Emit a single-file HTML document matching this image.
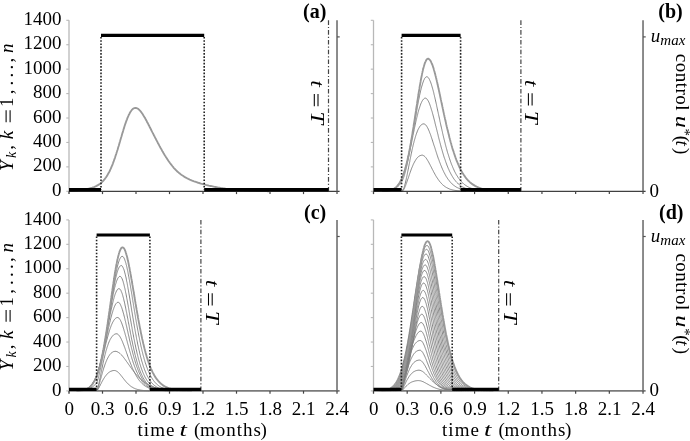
<!DOCTYPE html>
<html><head><meta charset="utf-8"><style>
html,body{margin:0;padding:0;background:#fff;}
svg{display:block;filter:grayscale(1);}
</style></head><body>
<svg width="690" height="441" viewBox="0 0 690 441" font-family='"Liberation Serif", serif' font-size="19" fill="#000">
<rect width="690" height="441" fill="#fff"/>
<polyline points="69,190.7 70,190.7 70.9,190.6 71.9,190.6 72.9,190.5 73.9,190.5 74.8,190.4 75.8,190.3 76.8,190.2 77.8,190.2 78.7,190.1 79.7,190 80.7,189.9 81.7,189.8 82.6,189.7 83.6,189.5 84.6,189.4 85.6,189.2 86.5,189.1 87.5,188.9 88.5,188.7 89.4,188.5 90.4,188.2 91.4,187.9 92.3,187.7 93.1,187.4 94,187.1 94.9,186.7 95.7,186.3 96.6,185.9 97.4,185.4 98.3,184.9 99.1,184.4 99.8,183.9 100.6,183.3 101.3,182.7 102.1,182 102.7,181.3 103.4,180.7 104,179.9 104.7,179.1 105.3,178.3 105.9,177.5 106.4,176.7 107,175.9 107.5,175 108,174.1 108.6,173.1 109,172.3 109.5,171.5 109.9,170.6 110.3,169.7 110.8,168.7 111.2,167.7 111.6,166.7 112.1,165.7 112.5,164.6 112.9,163.5 113.2,162.6 113.6,161.7 113.9,160.8 114.2,159.9 114.5,159 114.9,158.1 115.2,157.1 115.5,156.1 115.8,155.1 116.2,154.1 116.5,153.1 116.8,152.1 117.1,151 117.5,150 117.8,148.9 118.1,147.8 118.4,146.8 118.8,145.7 119.1,144.6 119.4,143.5 119.7,142.4 120.1,141.2 120.4,140.1 120.7,139 121,137.9 121.4,136.8 121.7,135.7 122,134.6 122.3,133.5 122.7,132.4 123,131.3 123.3,130.3 123.6,129.2 124,128.2 124.3,127.1 124.6,126.1 124.9,125.1 125.2,124.2 125.6,123.2 125.9,122.3 126.2,121.4 126.5,120.5 126.9,119.6 127.2,118.7 127.6,117.7 128.1,116.6 128.5,115.7 128.9,114.7 129.4,113.9 129.8,113 130.3,112.1 130.9,111.3 131.4,110.5 132.1,109.7 132.7,109.1 133.5,108.5 134.3,108.1 135.3,107.9 136.3,108 137.1,108.3 138,108.8 138.8,109.4 139.5,110.1 140.2,110.8 140.8,111.6 141.5,112.5 142,113.2 142.6,114.1 143.1,114.9 143.6,115.8 144.2,116.7 144.7,117.6 145.3,118.6 145.8,119.5 146.2,120.3 146.7,121.1 147.1,122 147.5,122.8 148,123.6 148.4,124.4 148.8,125.3 149.3,126.1 149.7,127 150.1,127.8 150.6,128.7 151,129.5 151.4,130.4 151.9,131.2 152.3,132.1 152.7,132.9 153.2,133.8 153.6,134.6 154,135.5 154.5,136.3 154.9,137.2 155.3,138 155.8,138.8 156.2,139.7 156.6,140.5 157.1,141.3 157.5,142.1 157.9,143 158.3,143.8 158.8,144.6 159.2,145.4 159.6,146.2 160.1,147 160.6,148 161.2,148.9 161.7,149.9 162.2,150.9 162.8,151.8 163.3,152.7 163.9,153.7 164.4,154.6 164.9,155.5 165.5,156.3 166,157.2 166.6,158 167.1,158.9 167.7,159.7 168.2,160.5 168.7,161.3 169.3,162 169.8,162.8 170.4,163.5 171,164.4 171.7,165.2 172.3,166 173,166.8 173.6,167.6 174.2,168.3 174.9,169 175.5,169.7 176.2,170.3 176.8,171 177.6,171.7 178.4,172.4 179.1,173 179.9,173.6 180.6,174.2 181.4,174.8 182.1,175.3 182.9,175.8 183.7,176.3 184.5,176.9 185.4,177.4 186.3,177.8 187.1,178.3 188,178.7 188.9,179.2 189.7,179.6 190.6,179.9 191.4,180.3 192.3,180.7 193.2,181 194,181.3 194.9,181.6 195.8,181.9 196.6,182.2 197.5,182.5 198.4,182.8 199.2,183 200.1,183.3 201,183.6 201.9,183.8 202.9,184.1 203.9,184.4 204.9,184.6 205.8,184.9 206.8,185.1 207.8,185.3 208.8,185.6 209.7,185.8 210.7,186 211.7,186.2 212.6,186.4 213.6,186.6 214.6,186.8 215.6,187 216.5,187.2 217.5,187.4 218.5,187.6 219.5,187.7 220.4,187.9 221.4,188.1 222.4,188.2 223.4,188.4 224.3,188.5 225.3,188.6 226.3,188.8 227.3,188.9 228.2,189 229.2,189.1 230.2,189.3 231.1,189.4 232.1,189.5 233.1,189.6 234.1,189.7 235,189.8 236,189.9 237,189.9 238,190 238.9,190.1 239.9,190.2 240.9,190.2 241.9,190.3 242.8,190.4 243.8,190.4 244.8,190.5 245.7,190.5 246.7,190.6 247.7,190.6 248.7,190.7 249.6,190.7 250.6,190.8 251.6,190.8 252.6,190.8 253.5,190.9 254.5,190.9 255.5,190.9 256.5,191 257.4,191 258.4,191 259.4,191 260.4,191 261.3,191.1 262.3,191.1 263.3,191.1 264.2,191.1 265.2,191.1 266.2,191.1 267.2,191.2 268.1,191.2 269.1,191.2 269.2,191.2" fill="none" stroke="#999" stroke-width="1.85" stroke-linejoin="round"/>
<polyline points="402.1,191.2 402.9,190.7 403.5,189.9 404,189.1 404.4,188.3 404.8,187.4 405.2,186.5 405.6,185.6 405.9,184.6 406.3,183.6 406.6,182.8 406.9,181.9 407.2,181 407.5,180.1 407.8,179.2 408.2,178.3 408.5,177.4 408.8,176.4 409.1,175.5 409.4,174.6 409.7,173.7 410,172.8 410.3,172 410.6,171.1 411,170.1 411.3,169.1 411.7,168.2 412.1,167.2 412.5,166.3 412.8,165.5 413.2,164.6 413.6,163.7 414.1,162.8 414.5,162 415,161.1 415.5,160.3 416,159.5 416.5,158.7 417.1,158 417.7,157.3 418.4,156.7 419.2,156.1 420,155.7 420.8,155.4 421.7,155.2 422.7,155.2 423.5,155.6 424.3,156.1 425,156.7 425.6,157.4 426.2,158.1 426.7,158.9 427.2,159.7 427.7,160.5 428.2,161.3 428.7,162.2 429.1,163 429.5,163.8 430,164.7 430.4,165.5 430.8,166.3 431.3,167.2 431.7,168 432.1,168.9 432.5,169.7 433,170.5 433.4,171.4 433.8,172.2 434.3,173 434.8,173.9 435.2,174.7 435.7,175.6 436.2,176.4 436.7,177.2 437.2,178 437.8,178.8 438.3,179.6 438.9,180.4 439.4,181.1 440,181.9 440.7,182.6 441.3,183.3 441.9,184 442.6,184.7 443.3,185.3 444,185.9 444.8,186.4 445.6,187 446.4,187.5 447.2,187.9 448,188.3 448.9,188.7 449.7,189.1 450.6,189.4 451.5,189.6 452.5,189.9 453.4,190.1 454.3,190.3 455.2,190.4 456.1,190.6 457.1,190.7 458,190.8 458.9,190.8 459.8,190.9 460.7,191 461.7,191 462.6,191.1 463.5,191.1 464.4,191.1 465.4,191.2 465.8,191.2" fill="none" stroke="#808080" stroke-width="0.95" stroke-linejoin="round"/>
<polyline points="402.1,191.2 402.7,190.5 403.2,189.6 403.6,188.8 404,187.8 404.3,186.8 404.6,185.8 404.8,184.9 405.1,184 405.3,183 405.6,182 405.8,180.9 406.1,179.8 406.3,178.7 406.6,177.6 406.8,176.4 407,175.5 407.2,174.6 407.4,173.7 407.5,172.7 407.7,171.8 407.9,170.9 408.1,169.9 408.3,169 408.5,168 408.6,167.1 408.8,166.1 409,165.2 409.2,164.2 409.4,163.3 409.6,162.3 409.8,161.4 409.9,160.4 410.1,159.5 410.3,158.6 410.5,157.6 410.7,156.7 410.9,155.8 411,154.9 411.2,154 411.4,153.1 411.7,152 411.9,150.8 412.1,149.7 412.4,148.6 412.6,147.5 412.9,146.4 413.1,145.4 413.4,144.3 413.6,143.3 413.9,142.4 414.1,141.4 414.4,140.5 414.6,139.6 414.9,138.7 415.2,137.6 415.5,136.6 415.8,135.6 416.1,134.7 416.4,133.8 416.7,133 417.1,132 417.4,131.1 417.8,130.2 418.2,129.3 418.7,128.4 419.2,127.6 419.6,126.8 420.2,126 420.8,125.3 421.5,124.7 422.3,124.2 423.1,123.9 424.1,123.9 424.9,124.3 425.7,124.9 426.3,125.6 426.8,126.4 427.3,127.3 427.8,128.1 428.2,129 428.6,129.9 429,130.8 429.4,131.7 429.7,132.7 430.1,133.6 430.5,134.6 430.8,135.5 431.1,136.4 431.4,137.3 431.7,138.2 432,139.1 432.3,140 432.6,141 432.9,141.9 433.2,142.8 433.5,143.8 433.8,144.8 434.1,145.7 434.5,146.7 434.8,147.6 435.1,148.6 435.4,149.6 435.7,150.5 436,151.5 436.3,152.4 436.6,153.3 436.9,154.3 437.2,155.2 437.5,156.1 437.8,157 438.1,157.9 438.4,158.8 438.8,159.6 439.1,160.5 439.4,161.5 439.8,162.5 440.2,163.4 440.5,164.4 440.9,165.3 441.3,166.2 441.6,167.1 442,168 442.4,168.8 442.7,169.7 443.2,170.6 443.6,171.5 444,172.4 444.5,173.2 444.9,174.1 445.3,174.8 445.8,175.7 446.3,176.6 446.8,177.3 447.3,178.1 447.8,178.9 448.4,179.7 449,180.4 449.6,181.2 450.2,181.9 450.8,182.6 451.5,183.3 452.1,184 452.8,184.6 453.6,185.2 454.3,185.7 455.1,186.3 455.9,186.8 456.7,187.3 457.5,187.7 458.4,188.1 459.2,188.4 460.1,188.8 460.9,189 461.9,189.3 462.8,189.6 463.7,189.8 464.6,190 465.5,190.1 466.5,190.3 467.4,190.4 468.3,190.5 469.2,190.6 470.1,190.7 471.1,190.8 472,190.9 472.9,190.9 473.8,191 474.8,191 475.7,191.1 476.6,191.1 477.5,191.1 478.4,191.1 479.4,191.2 480,191.2" fill="none" stroke="#808080" stroke-width="0.95" stroke-linejoin="round"/>
<polyline points="382.5,191.2 383.5,191.1 384.4,191.1 385.3,191 386.2,191 387.1,190.9 388.1,190.8 389,190.6 389.9,190.4 390.8,190.2 391.7,190 392.6,189.7 393.5,189.3 394.3,188.9 395.1,188.5 395.9,188 396.7,187.4 397.4,186.9 398.1,186.2 398.8,185.6 399.4,184.9 400,184.2 400.5,183.5 401.1,182.7 401.6,181.9 402.1,181 402.6,180.2 402.9,179.3 403.3,178.4 403.7,177.4 404,176.5 404.3,175.5 404.6,174.5 404.9,173.4 405.1,172.6 405.4,171.6 405.6,170.7 405.9,169.7 406.1,168.7 406.4,167.7 406.6,166.7 406.9,165.6 407.1,164.5 407.4,163.4 407.6,162.3 407.8,161.1 408.1,160 408.3,158.8 408.5,157.9 408.7,157 408.9,156.1 409.1,155.2 409.3,154.3 409.4,153.4 409.6,152.5 409.8,151.6 410,150.6 410.2,149.7 410.4,148.8 410.5,147.8 410.7,146.9 410.9,146 411.1,145 411.3,144.1 411.5,143.1 411.7,142.2 411.8,141.2 412,140.3 412.2,139.4 412.4,138.4 412.6,137.5 412.8,136.6 412.9,135.6 413.1,134.7 413.3,133.8 413.5,132.9 413.7,132 413.9,131 414.1,130.1 414.2,129.3 414.4,128.4 414.6,127.5 414.9,126.3 415.1,125.2 415.3,124 415.6,122.9 415.8,121.8 416.1,120.7 416.3,119.6 416.6,118.6 416.8,117.5 417.1,116.5 417.3,115.5 417.6,114.5 417.8,113.6 418,112.6 418.3,111.7 418.5,110.8 418.8,109.8 419.2,108.7 419.5,107.8 419.8,106.8 420.1,105.9 420.4,105.1 420.7,104.1 421.1,103.2 421.5,102.4 421.9,101.5 422.4,100.6 423,99.8 423.6,99 424.3,98.4 425.2,98.1 426.1,98.3 426.8,98.9 427.4,99.6 427.9,100.4 428.4,101.2 428.8,102.1 429.2,102.9 429.5,103.8 429.9,104.8 430.2,105.7 430.5,106.6 430.8,107.5 431.1,108.5 431.4,109.5 431.7,110.5 432.1,111.6 432.3,112.4 432.5,113.3 432.8,114.2 433,115.1 433.3,116.1 433.5,117 433.8,117.9 434,118.9 434.3,119.9 434.5,120.8 434.8,121.8 435,122.8 435.2,123.8 435.5,124.8 435.7,125.8 436,126.7 436.2,127.7 436.5,128.7 436.7,129.7 437,130.7 437.2,131.7 437.5,132.7 437.7,133.7 438,134.7 438.2,135.7 438.4,136.7 438.7,137.6 438.9,138.6 439.2,139.6 439.4,140.5 439.7,141.5 439.9,142.4 440.2,143.3 440.4,144.3 440.7,145.2 440.9,146.1 441.1,147 441.4,147.9 441.6,148.8 441.9,149.6 442.2,150.7 442.5,151.8 442.8,152.8 443.1,153.8 443.4,154.8 443.7,155.8 444,156.8 444.3,157.8 444.7,158.7 445,159.6 445.3,160.5 445.6,161.4 445.9,162.3 446.2,163.1 446.6,164.1 446.9,165.1 447.3,166 447.7,166.9 448,167.8 448.4,168.7 448.8,169.5 449.2,170.5 449.6,171.4 450.1,172.3 450.5,173.1 450.9,173.9 451.4,174.8 451.9,175.7 452.4,176.5 452.9,177.3 453.4,178.2 454,179 454.5,179.7 455.1,180.4 455.7,181.2 456.3,181.9 456.9,182.5 457.6,183.2 458.3,183.9 459,184.5 459.8,185.1 460.5,185.6 461.3,186.2 462.1,186.7 462.9,187.1 463.8,187.5 464.6,187.9 465.5,188.3 466.3,188.6 467.2,188.9 468.1,189.2 469,189.4 470,189.7 470.9,189.8 471.8,190 472.7,190.2 473.7,190.3 474.6,190.4 475.5,190.5 476.4,190.6 477.3,190.7 478.3,190.8 479.2,190.8 480.1,190.9 481,191 481.9,191 482.9,191 483.8,191.1 484.7,191.1 485.6,191.1 486.6,191.1 487.5,191.2 488.1,191.2" fill="none" stroke="#808080" stroke-width="0.95" stroke-linejoin="round"/>
<polyline points="382.2,191.2 383.1,191.1 384.1,191.1 385,191 385.9,190.9 386.8,190.8 387.8,190.7 388.7,190.5 389.6,190.3 390.5,190.1 391.4,189.8 392.2,189.4 393.1,189 393.9,188.6 394.7,188 395.4,187.5 396.1,186.9 396.8,186.2 397.4,185.5 398,184.7 398.6,184 399.1,183.2 399.6,182.4 400.1,181.5 400.5,180.7 401,179.9 401.4,179 401.8,178 402.2,177.1 402.6,176.2 402.9,175.3 403.3,174.3 403.6,173.4 403.9,172.5 404.2,171.6 404.5,170.6 404.8,169.6 405.1,168.6 405.4,167.6 405.7,166.7 405.9,165.8 406.2,164.9 406.4,163.9 406.7,163 406.9,162 407.2,161 407.4,160 407.7,158.9 407.9,157.9 408.2,156.8 408.4,155.7 408.6,154.6 408.9,153.4 409.1,152.3 409.3,151.4 409.5,150.5 409.7,149.6 409.9,148.7 410.1,147.8 410.2,146.8 410.4,145.9 410.6,144.9 410.8,144 411,143 411.2,142 411.3,141.1 411.5,140.1 411.7,139.1 411.9,138.1 412.1,137 412.3,136 412.5,135 412.6,134 412.8,132.9 413,131.9 413.2,130.8 413.4,129.8 413.6,128.7 413.7,127.7 413.9,126.6 414.1,125.6 414.3,124.5 414.5,123.4 414.7,122.4 414.9,121.3 415,120.3 415.2,119.2 415.4,118.1 415.6,117.1 415.8,116 416,115 416.1,113.9 416.3,112.9 416.5,111.8 416.7,110.8 416.9,109.7 417.1,108.7 417.2,107.7 417.4,106.7 417.6,105.7 417.8,104.7 418,103.7 418.2,102.7 418.4,101.7 418.5,100.8 418.7,99.8 418.9,98.9 419.1,98 419.3,97.1 419.5,96.2 419.6,95.3 419.9,94.1 420.1,93 420.4,91.9 420.6,90.9 420.9,89.8 421.1,88.8 421.4,87.8 421.6,86.9 421.9,86 422.2,84.9 422.5,83.9 422.8,83 423.1,82.1 423.5,81.1 423.8,80.2 424.3,79.3 424.7,78.4 425.3,77.6 426,77 426.8,76.7 427.7,77.1 428.4,77.7 428.9,78.5 429.4,79.4 429.8,80.3 430.2,81.2 430.6,82.1 430.9,83 431.2,83.9 431.5,84.8 431.8,85.8 432.1,86.8 432.4,87.9 432.7,88.8 432.9,89.7 433.2,90.7 433.4,91.6 433.7,92.6 433.9,93.6 434.1,94.6 434.4,95.6 434.6,96.7 434.9,97.7 435.1,98.8 435.4,99.9 435.6,101 435.9,102.1 436.1,103.2 436.4,104.3 436.6,105.4 436.8,106.6 437.1,107.7 437.3,108.9 437.6,110 437.8,111.2 438.1,112.3 438.3,113.5 438.6,114.6 438.8,115.8 439.1,116.9 439.3,118.1 439.6,119.2 439.8,120.4 440,121.5 440.3,122.6 440.5,123.8 440.8,124.9 441,126 441.3,127.1 441.5,128.2 441.8,129.3 442,130.4 442.3,131.5 442.5,132.6 442.7,133.6 443,134.7 443.2,135.7 443.5,136.8 443.7,137.8 444,138.8 444.2,139.8 444.5,140.8 444.7,141.8 445,142.8 445.2,143.7 445.4,144.7 445.7,145.6 445.9,146.5 446.2,147.5 446.4,148.4 446.7,149.2 446.9,150.1 447.2,151.2 447.5,152.3 447.8,153.3 448.2,154.3 448.5,155.3 448.8,156.3 449.1,157.3 449.4,158.2 449.7,159.1 450,160 450.3,160.9 450.6,161.8 451,162.8 451.3,163.8 451.7,164.7 452.1,165.6 452.5,166.6 452.8,167.4 453.2,168.3 453.6,169.1 454,170.1 454.4,171 454.8,171.8 455.3,172.7 455.7,173.5 456.2,174.4 456.7,175.2 457.2,176 457.7,176.8 458.2,177.6 458.8,178.4 459.3,179.2 459.9,179.9 460.5,180.6 461.1,181.3 461.7,182 462.4,182.7 463.1,183.3 463.8,184 464.6,184.6 465.3,185.1 466.1,185.7 466.9,186.2 467.7,186.6 468.5,187.1 469.3,187.5 470.2,187.9 471.1,188.2 471.9,188.5 472.8,188.8 473.7,189.1 474.6,189.3 475.6,189.5 476.5,189.7 477.4,189.9 478.3,190.1 479.2,190.2 480.2,190.3 481.1,190.4 482,190.5 482.9,190.6 483.9,190.7 484.8,190.8 485.7,190.8 486.6,190.9 487.5,190.9 488.5,191 489.4,191 490.3,191 491.2,191.1 492.1,191.1 493.1,191.1 494,191.1 494.9,191.2 495.6,191.2" fill="none" stroke="#808080" stroke-width="0.95" stroke-linejoin="round"/>
<polyline points="382.7,191.2 383.6,191.1 384.5,191.1 385.4,191 386.3,190.9 387.3,190.8 388.2,190.7 389.1,190.5 390,190.3 390.9,190.1 391.8,189.8 392.7,189.4 393.5,189 394.3,188.5 395.1,188 395.9,187.4 396.5,186.8 397.2,186.1 397.8,185.4 398.4,184.6 399,183.8 399.5,183 400,182.2 400.5,181.3 400.9,180.5 401.3,179.6 401.8,178.7 402.1,177.8 402.5,176.9 402.9,175.9 403.2,175 403.5,174.1 403.9,173.2 404.2,172.3 404.5,171.3 404.8,170.3 405.1,169.3 405.4,168.2 405.6,167.3 405.9,166.4 406.1,165.4 406.4,164.5 406.6,163.5 406.9,162.5 407.1,161.5 407.4,160.4 407.6,159.3 407.8,158.2 408.1,157.1 408.3,155.9 408.6,154.8 408.8,153.9 409,152.9 409.1,152 409.3,151.1 409.5,150.1 409.7,149.2 409.9,148.2 410.1,147.2 410.2,146.2 410.4,145.2 410.6,144.2 410.8,143.1 411,142.1 411.2,141 411.3,140 411.5,138.9 411.7,137.8 411.9,136.7 412.1,135.6 412.3,134.5 412.5,133.3 412.6,132.2 412.8,131 413,129.9 413.2,128.7 413.4,127.6 413.6,126.4 413.7,125.2 413.9,124 414.1,122.8 414.3,121.6 414.5,120.4 414.7,119.2 414.9,118 415,116.8 415.2,115.6 415.4,114.3 415.6,113.1 415.8,111.9 416,110.7 416.1,109.5 416.3,108.2 416.5,107 416.7,105.8 416.9,104.6 417.1,103.4 417.2,102.2 417.4,101 417.6,99.8 417.8,98.6 418,97.4 418.2,96.2 418.4,95 418.5,93.8 418.7,92.7 418.9,91.5 419.1,90.4 419.3,89.3 419.5,88.2 419.6,87.1 419.8,86 420,84.9 420.2,83.8 420.4,82.8 420.6,81.7 420.7,80.7 420.9,79.7 421.1,78.7 421.3,77.7 421.5,76.8 421.7,75.9 421.9,74.9 422,74.1 422.3,72.9 422.5,71.8 422.8,70.7 423,69.6 423.3,68.6 423.5,67.7 423.8,66.8 424,65.9 424.3,64.9 424.6,63.9 424.9,63 425.3,62.1 425.7,61.3 426.1,60.4 426.6,59.6 427.3,58.9 428.2,58.7 429,59.1 429.7,59.7 430.3,60.5 430.8,61.3 431.2,62.1 431.6,63.1 432,64 432.4,64.9 432.7,65.8 433,66.7 433.3,67.6 433.6,68.6 433.9,69.7 434.2,70.7 434.5,71.6 434.7,72.5 434.9,73.4 435.2,74.3 435.4,75.3 435.7,76.3 435.9,77.3 436.2,78.3 436.4,79.3 436.7,80.3 436.9,81.4 437.2,82.5 437.4,83.5 437.6,84.6 437.9,85.7 438.1,86.8 438.4,87.9 438.6,89.1 438.9,90.2 439.1,91.3 439.4,92.5 439.6,93.6 439.9,94.8 440.1,95.9 440.3,97.1 440.6,98.2 440.8,99.4 441.1,100.6 441.3,101.7 441.6,102.9 441.8,104.1 442.1,105.2 442.3,106.4 442.6,107.5 442.8,108.7 443.1,109.8 443.3,111 443.5,112.1 443.8,113.3 444,114.4 444.3,115.5 444.5,116.7 444.8,117.8 445,118.9 445.3,120 445.5,121.1 445.8,122.2 446,123.3 446.2,124.3 446.5,125.4 446.7,126.5 447,127.5 447.2,128.5 447.5,129.6 447.7,130.6 448,131.6 448.2,132.6 448.5,133.6 448.7,134.6 449,135.6 449.2,136.5 449.4,137.5 449.7,138.4 449.9,139.3 450.2,140.3 450.4,141.2 450.7,142.1 450.9,143 451.2,143.8 451.4,144.7 451.7,145.8 452,146.8 452.3,147.9 452.6,148.9 452.9,149.9 453.3,150.9 453.6,151.8 453.9,152.8 454.2,153.7 454.5,154.6 454.8,155.5 455.1,156.4 455.4,157.3 455.7,158.1 456.1,159.1 456.4,160.1 456.8,161 457.2,161.9 457.6,162.8 457.9,163.7 458.3,164.6 458.7,165.4 459.1,166.4 459.5,167.3 459.9,168.2 460.4,169 460.8,169.9 461.2,170.7 461.7,171.6 462.2,172.4 462.7,173.2 463.2,174 463.7,174.8 464.3,175.6 464.8,176.4 465.4,177.2 465.9,177.9 466.5,178.7 467.1,179.4 467.8,180.1 468.4,180.8 469.1,181.4 469.8,182.1 470.5,182.7 471.2,183.3 471.9,183.9 472.7,184.4 473.5,184.9 474.3,185.4 475.1,185.9 475.9,186.3 476.7,186.7 477.6,187.1 478.4,187.5 479.3,187.8 480.2,188.1 481,188.4 481.9,188.7 482.9,188.9 483.8,189.2 484.7,189.4 485.6,189.5 486.6,189.7 487.5,189.9 488.4,190 489.3,190.1 490.2,190.2 491.2,190.4 492.1,190.4 493,190.5 493.9,190.6 494.8,190.7 495.8,190.7 496.7,190.8 497.6,190.8 498.5,190.9 499.5,190.9 500.4,191 501.3,191 502.2,191 503.1,191.1 504.1,191.1 505,191.1 505.9,191.1 506.8,191.1 507.8,191.2 508.7,191.2 508.8,191.2" fill="none" stroke="#999" stroke-width="1.85" stroke-linejoin="round"/>
<polyline points="96.8,390.8 97.5,390.1 98,389.3 98.5,388.5 99,387.7 99.4,386.8 99.8,386 100.3,385.1 100.7,384.2 101.2,383.4 101.6,382.5 102,381.7 102.5,380.8 102.9,380 103.4,379.2 103.9,378.4 104.4,377.6 105,376.7 105.5,376 106.1,375.3 106.7,374.5 107.3,373.8 108,373.2 108.7,372.6 109.5,372 110.3,371.5 111.1,371.2 112,370.9 112.9,370.6 113.8,370.5 114.7,370.5 115.6,370.7 116.4,371.1 117.2,371.5 117.9,372.1 118.6,372.7 119.3,373.4 119.9,374.1 120.5,374.8 121.1,375.6 121.7,376.3 122.3,377.1 122.9,377.9 123.5,378.6 124.1,379.4 124.7,380.1 125.3,380.9 125.9,381.6 126.5,382.3 127.2,383 127.8,383.7 128.5,384.3 129.2,384.9 129.9,385.5 130.6,386.1 131.4,386.7 132.2,387.1 133,387.6 133.8,388.1 134.6,388.4 135.5,388.8 136.4,389.1 137.3,389.4 138.2,389.6 139,389.8 140,390 140.9,390.2 141.9,390.3 142.8,390.4 143.7,390.5 144.7,390.6 145.6,390.6 146.5,390.7 147.5,390.7 148.4,390.8 149.2,390.8" fill="none" stroke="#808080" stroke-width="0.95" stroke-linejoin="round"/>
<polyline points="96.8,390.8 97.3,390 97.6,389.1 98,388.2 98.3,387.3 98.6,386.4 98.9,385.5 99.1,384.5 99.4,383.5 99.7,382.6 100,381.6 100.2,380.5 100.5,379.5 100.8,378.5 101.1,377.5 101.3,376.5 101.6,375.5 101.9,374.5 102.2,373.5 102.4,372.6 102.7,371.6 103,370.7 103.3,369.8 103.5,368.9 103.8,368 104.1,367 104.5,366 104.8,365.1 105.1,364.1 105.5,363.2 105.8,362.4 106.2,361.4 106.6,360.5 106.9,359.7 107.3,358.9 107.8,358 108.2,357.2 108.7,356.3 109.2,355.6 109.7,354.8 110.3,354 111,353.3 111.7,352.7 112.5,352.2 113.3,351.7 114.2,351.5 115.1,351.3 116.1,351.4 116.9,351.6 117.8,352 118.6,352.5 119.4,353 120.1,353.6 120.8,354.3 121.5,354.9 122.1,355.6 122.7,356.3 123.3,357.1 123.9,357.8 124.4,358.5 125,359.3 125.5,360 126.1,360.8 126.6,361.6 127.2,362.3 127.7,363.1 128.3,363.9 128.8,364.7 129.4,365.5 129.9,366.2 130.5,367 131,367.8 131.6,368.5 132.1,369.3 132.7,370 133.2,370.7 133.8,371.5 134.4,372.2 135,373 135.6,373.7 136.2,374.4 136.8,375.1 137.4,375.8 138.1,376.5 138.7,377.2 139.4,377.9 140,378.5 140.7,379.2 141.4,379.8 142.1,380.4 142.8,381 143.6,381.6 144.3,382.2 145.1,382.7 145.9,383.2 146.6,383.7 147.4,384.2 148.2,384.7 149.1,385.1 149.9,385.5 150.7,385.9 151.5,386.3 152.4,386.6 153.3,387 154.2,387.3 155,387.6 155.9,387.8 156.8,388.1 157.7,388.3 158.6,388.5 159.4,388.7 160.4,388.9 161.3,389.1 162.2,389.3 163.2,389.4 164.1,389.5 165.1,389.7 166,389.8 166.9,389.9 167.9,390 168.8,390.1 169.7,390.1 170.7,390.2 171.6,390.3 172.5,390.3 173.5,390.4 174.4,390.4 175.3,390.5 176.3,390.5 177.2,390.6 178.1,390.6 179.1,390.6 180,390.7 180.9,390.7 181.9,390.7 182.8,390.7 183.7,390.7 184.7,390.8 185.6,390.8 186.4,390.8" fill="none" stroke="#808080" stroke-width="0.95" stroke-linejoin="round"/>
<polyline points="96.7,390.8 97.2,390 97.5,389.1 97.8,388.2 98,387.2 98.3,386.1 98.5,385.2 98.7,384.2 99,383.2 99.2,382.2 99.4,381.1 99.6,380.1 99.8,379 100.1,377.9 100.3,376.8 100.5,375.7 100.7,374.6 100.9,373.5 101.2,372.4 101.4,371.3 101.6,370.3 101.8,369.2 102,368.1 102.3,367 102.5,366 102.7,364.9 102.9,363.9 103.1,362.9 103.4,361.9 103.6,360.9 103.8,359.9 104,358.9 104.2,358 104.5,357 104.7,356.1 104.9,355.2 105.1,354.4 105.4,353.3 105.7,352.3 105.9,351.3 106.2,350.3 106.5,349.3 106.8,348.4 107,347.5 107.3,346.7 107.7,345.7 108,344.7 108.3,343.8 108.6,343 109,342 109.4,341.1 109.8,340.3 110.2,339.4 110.7,338.6 111.2,337.8 111.7,337 112.3,336.3 112.9,335.6 113.6,334.9 114.4,334.4 115.2,334 116.1,333.8 117,333.8 117.8,334.2 118.5,334.8 119.1,335.5 119.7,336.3 120.2,337.1 120.6,337.9 121.1,338.7 121.5,339.6 121.9,340.5 122.3,341.3 122.7,342.3 123,343.2 123.4,344.2 123.8,345 124.1,345.9 124.4,346.8 124.8,347.7 125.1,348.6 125.4,349.5 125.7,350.4 126.1,351.3 126.4,352.3 126.7,353.2 127.1,354.1 127.4,355 127.7,356 128,356.9 128.4,357.8 128.7,358.7 129,359.6 129.4,360.5 129.7,361.3 130,362.2 130.4,363 130.7,363.9 131.1,364.8 131.5,365.8 131.8,366.7 132.2,367.6 132.6,368.5 133,369.4 133.4,370.2 133.8,371 134.2,371.9 134.6,372.8 135.1,373.7 135.5,374.5 136,375.3 136.5,376.2 137,377 137.5,377.8 137.9,378.5 138.5,379.3 139,380.1 139.6,380.8 140.2,381.5 140.8,382.2 141.5,382.9 142.1,383.6 142.8,384.2 143.5,384.8 144.2,385.4 145,385.9 145.8,386.4 146.6,386.9 147.4,387.4 148.2,387.8 149.1,388.1 150,388.5 150.9,388.8 151.7,389 152.6,389.3 153.5,389.5 154.4,389.7 155.4,389.8 156.3,390 157.2,390.1 158.2,390.2 159.1,390.3 160,390.4 161,390.5 161.9,390.5 162.9,390.6 163.8,390.6 164.7,390.7 165.7,390.7 166.6,390.7 167.5,390.8 168.4,390.8" fill="none" stroke="#808080" stroke-width="0.95" stroke-linejoin="round"/>
<polyline points="77.1,390.8 78.1,390.7 79,390.7 79.9,390.6 80.9,390.6 81.8,390.5 82.7,390.4 83.7,390.2 84.6,390.1 85.5,389.9 86.4,389.7 87.3,389.4 88.2,389.1 89.1,388.8 89.9,388.4 90.7,388 91.5,387.5 92.3,387 93.1,386.4 93.8,385.8 94.5,385.2 95.2,384.6 95.8,383.9 96.5,383.2 97,382.3 97.3,381.4 97.6,380.4 97.9,379.4 98.2,378.4 98.5,377.4 98.7,376.5 98.9,375.6 99.1,374.7 99.3,373.7 99.6,372.8 99.8,371.8 100,370.8 100.2,369.8 100.4,368.8 100.7,367.8 100.9,366.7 101.1,365.7 101.3,364.7 101.5,363.6 101.8,362.6 102,361.5 102.2,360.5 102.4,359.5 102.6,358.4 102.9,357.4 103.1,356.4 103.3,355.3 103.5,354.3 103.7,353.3 104,352.3 104.2,351.3 104.4,350.3 104.6,349.3 104.8,348.4 105.1,347.4 105.3,346.4 105.5,345.5 105.7,344.6 105.9,343.6 106.2,342.7 106.4,341.8 106.6,340.9 106.8,340 107.1,339 107.4,337.9 107.7,336.9 107.9,335.9 108.2,334.9 108.5,333.9 108.8,333 109,332 109.3,331.1 109.6,330.3 109.9,329.3 110.2,328.3 110.6,327.4 110.9,326.5 111.2,325.6 111.6,324.7 112,323.8 112.4,322.9 112.8,322.1 113.3,321.3 113.8,320.4 114.3,319.7 114.9,318.9 115.6,318.3 116.3,317.8 117.2,317.5 118.2,317.6 118.9,318.1 119.5,318.9 120,319.6 120.5,320.4 120.9,321.3 121.3,322.2 121.7,323.1 122,324 122.3,324.9 122.7,325.9 123,326.9 123.3,327.9 123.6,328.8 123.9,329.7 124.1,330.6 124.4,331.5 124.7,332.5 125,333.5 125.2,334.4 125.5,335.4 125.8,336.4 126.1,337.4 126.3,338.5 126.6,339.5 126.9,340.5 127.2,341.5 127.4,342.6 127.7,343.6 128,344.6 128.3,345.6 128.5,346.6 128.8,347.7 129.1,348.7 129.4,349.7 129.6,350.6 129.9,351.6 130.2,352.6 130.5,353.6 130.7,354.5 131,355.5 131.3,356.4 131.6,357.3 131.8,358.2 132.1,359.1 132.4,360 132.7,360.8 133,361.9 133.3,362.9 133.7,363.8 134,364.8 134.3,365.7 134.6,366.6 135,367.5 135.3,368.4 135.6,369.2 136,370.2 136.4,371.1 136.8,372 137.2,372.8 137.6,373.7 138,374.6 138.4,375.4 138.9,376.3 139.3,377.1 139.8,377.9 140.3,378.7 140.8,379.5 141.4,380.3 141.9,381.1 142.5,381.8 143.1,382.5 143.7,383.2 144.3,383.9 145,384.5 145.7,385.2 146.4,385.7 147.2,386.3 148,386.8 148.8,387.3 149.6,387.7 150.4,388.1 151.3,388.5 152.2,388.8 153.1,389.1 153.9,389.3 154.8,389.5 155.8,389.7 156.7,389.9 157.6,390 158.6,390.2 159.5,390.3 160.4,390.4 161.4,390.4 162.3,390.5 163.2,390.6 164.2,390.6 165.1,390.7 166,390.7 167,390.7 167.9,390.8 168.7,390.8" fill="none" stroke="#808080" stroke-width="0.95" stroke-linejoin="round"/>
<polyline points="76.3,390.8 77.2,390.7 78.2,390.7 79.1,390.6 80.1,390.5 81,390.4 81.9,390.3 82.9,390.1 83.7,389.9 84.6,389.6 85.5,389.3 86.4,388.9 87.2,388.5 88,388 88.7,387.5 89.5,386.9 90.2,386.3 90.8,385.6 91.4,384.9 92,384.1 92.6,383.3 93.1,382.5 93.6,381.7 94.1,380.8 94.6,380 95,379.1 95.4,378.3 95.8,377.4 96.2,376.5 96.5,375.6 96.9,374.7 97.2,373.9 97.5,373 97.9,372 98.2,371.1 98.5,370.1 98.8,369.2 99.1,368.3 99.3,367.4 99.6,366.5 99.9,365.5 100.2,364.6 100.4,363.6 100.7,362.6 101,361.5 101.3,360.5 101.5,359.4 101.8,358.3 102,357.4 102.3,356.5 102.5,355.6 102.7,354.7 102.9,353.8 103.1,352.8 103.4,351.9 103.6,350.9 103.8,349.9 104,349 104.2,348 104.5,347 104.7,346 104.9,345 105.1,344 105.3,343 105.6,341.9 105.8,340.9 106,339.9 106.2,338.9 106.4,337.8 106.7,336.8 106.9,335.8 107.1,334.8 107.3,333.7 107.5,332.7 107.8,331.7 108,330.7 108.2,329.7 108.4,328.7 108.6,327.7 108.9,326.7 109.1,325.7 109.3,324.7 109.5,323.8 109.7,322.8 110,321.9 110.2,320.9 110.4,320 110.6,319.1 110.8,318.2 111.1,317.2 111.4,316.1 111.7,315.1 111.9,314.1 112.2,313.1 112.5,312.2 112.8,311.3 113,310.4 113.4,309.4 113.7,308.5 114,307.6 114.4,306.7 114.8,305.8 115.2,304.9 115.7,304.1 116.3,303.3 116.9,302.7 117.8,302.3 118.6,302.4 119.4,302.9 119.9,303.7 120.4,304.5 120.8,305.5 121.2,306.4 121.6,307.3 121.9,308.2 122.2,309.2 122.5,310 122.8,311 123,311.9 123.3,312.9 123.6,313.9 123.9,314.9 124.1,316 124.4,316.9 124.6,317.8 124.8,318.7 125,319.6 125.2,320.5 125.5,321.5 125.7,322.4 125.9,323.4 126.1,324.3 126.3,325.3 126.6,326.3 126.8,327.2 127,328.2 127.2,329.2 127.4,330.2 127.7,331.2 127.9,332.2 128.1,333.2 128.3,334.2 128.5,335.1 128.8,336.1 129,337.1 129.2,338.1 129.4,339.1 129.6,340 129.9,341 130.1,342 130.3,342.9 130.5,343.8 130.7,344.8 131,345.7 131.2,346.6 131.4,347.5 131.6,348.4 131.8,349.3 132.1,350.2 132.3,351.1 132.6,352.2 132.8,353.2 133.1,354.3 133.4,355.3 133.7,356.3 133.9,357.3 134.2,358.3 134.5,359.3 134.8,360.2 135,361.1 135.3,362 135.6,362.9 135.9,363.8 136.2,364.8 136.5,365.8 136.8,366.7 137.2,367.6 137.5,368.5 137.8,369.4 138.2,370.3 138.6,371.2 138.9,372.1 139.3,373 139.7,373.9 140.1,374.7 140.5,375.6 141,376.5 141.4,377.3 141.9,378.2 142.4,379 142.9,379.8 143.4,380.6 144,381.3 144.5,382.1 145.1,382.8 145.8,383.5 146.4,384.1 147.1,384.8 147.8,385.4 148.5,386 149.3,386.5 150,387 150.9,387.5 151.7,387.9 152.5,388.3 153.4,388.6 154.3,388.9 155.2,389.2 156,389.4 156.9,389.6 157.8,389.8 158.8,390 159.7,390.1 160.7,390.2 161.6,390.3 162.5,390.4 163.5,390.5 164.4,390.5 165.3,390.6 166.3,390.6 167.2,390.7 168.1,390.7 169.1,390.7 170,390.8 170.3,390.8" fill="none" stroke="#808080" stroke-width="0.95" stroke-linejoin="round"/>
<polyline points="76.9,390.8 77.9,390.7 78.8,390.7 79.7,390.6 80.7,390.5 81.6,390.4 82.5,390.3 83.5,390.1 84.3,389.8 85.2,389.6 86.1,389.2 86.9,388.9 87.7,388.4 88.5,387.9 89.3,387.4 90,386.7 90.7,386.1 91.3,385.4 91.9,384.6 92.5,383.9 93,383.1 93.5,382.3 94,381.4 94.5,380.6 94.9,379.7 95.3,378.8 95.7,377.9 96.1,377 96.5,376 96.8,375.2 97.2,374.3 97.5,373.4 97.8,372.4 98.1,371.4 98.4,370.5 98.7,369.6 99,368.7 99.2,367.8 99.5,366.8 99.8,365.8 100.1,364.8 100.3,363.7 100.6,362.7 100.8,361.8 101.1,360.9 101.3,360 101.5,359.1 101.7,358.1 101.9,357.2 102.2,356.2 102.4,355.2 102.6,354.2 102.8,353.2 103,352.2 103.3,351.1 103.5,350.1 103.7,349 103.9,347.9 104.1,346.8 104.4,345.7 104.6,344.6 104.8,343.5 105,342.3 105.2,341.2 105.5,340 105.7,338.9 105.9,337.7 106.1,336.6 106.3,335.4 106.6,334.2 106.7,333.3 106.9,332.4 107,331.5 107.2,330.6 107.4,329.7 107.5,328.9 107.7,328 107.9,327.1 108,326.2 108.2,325.3 108.4,324.4 108.5,323.5 108.7,322.6 108.9,321.4 109.1,320.3 109.4,319.1 109.6,318 109.8,316.8 110,315.7 110.2,314.5 110.5,313.4 110.7,312.3 110.9,311.2 111.1,310.2 111.3,309.1 111.6,308.1 111.8,307 112,306 112.2,305.1 112.4,304.1 112.7,303.1 112.9,302.2 113.1,301.3 113.3,300.5 113.6,299.4 113.9,298.4 114.1,297.4 114.4,296.5 114.7,295.6 115,294.6 115.3,293.7 115.7,292.8 116.1,291.9 116.5,291 117,290.2 117.5,289.4 118.3,288.8 119.1,288.6 119.9,289.1 120.5,289.8 121,290.6 121.3,291.5 121.7,292.4 122.1,293.4 122.4,294.4 122.7,295.3 122.9,296.2 123.2,297.2 123.5,298.3 123.7,299.2 123.9,300.1 124.1,301 124.4,302 124.6,302.9 124.8,303.9 125,304.9 125.2,306 125.5,307 125.7,308.1 125.9,309.2 126.1,310.3 126.3,311.4 126.6,312.5 126.8,313.6 127,314.8 127.2,315.9 127.4,317.1 127.7,318.2 127.9,319.4 128.1,320.6 128.3,321.7 128.5,322.9 128.8,324.1 129,325.2 129.2,326.4 129.4,327.6 129.6,328.7 129.9,329.9 130.1,331 130.3,332.2 130.5,333.3 130.7,334.4 131,335.5 131.2,336.7 131.4,337.8 131.6,338.9 131.8,339.9 132.1,341 132.3,342.1 132.5,343.1 132.7,344.2 132.9,345.2 133.2,346.2 133.4,347.2 133.6,348.2 133.8,349.2 134,350.2 134.3,351.1 134.5,352.1 134.7,353 134.9,353.9 135.1,354.8 135.4,355.7 135.6,356.8 135.9,357.8 136.2,358.8 136.5,359.9 136.7,360.8 137,361.8 137.3,362.8 137.6,363.7 137.8,364.6 138.1,365.5 138.4,366.5 138.8,367.5 139.1,368.4 139.4,369.4 139.8,370.3 140.1,371.1 140.4,372 140.8,372.9 141.2,373.8 141.6,374.7 142,375.5 142.4,376.4 142.8,377.3 143.3,378.1 143.8,379 144.3,379.8 144.8,380.5 145.3,381.3 145.9,382.1 146.5,382.8 147.1,383.5 147.7,384.2 148.4,384.9 149.1,385.5 149.8,386.1 150.6,386.6 151.4,387.1 152.2,387.6 153,388 153.8,388.4 154.7,388.7 155.6,389 156.5,389.3 157.4,389.5 158.2,389.7 159.2,389.9 160.1,390 161,390.2 162,390.3 162.9,390.4 163.8,390.5 164.8,390.5 165.7,390.6 166.6,390.6 167.6,390.7 168.5,390.7 169.5,390.7 170.4,390.8 170.7,390.8" fill="none" stroke="#808080" stroke-width="0.95" stroke-linejoin="round"/>
<polyline points="77.1,390.8 78,390.7 79,390.7 79.9,390.6 80.8,390.5 81.8,390.4 82.7,390.3 83.6,390.1 84.5,389.8 85.4,389.6 86.3,389.2 87.1,388.9 87.9,388.4 88.7,387.9 89.5,387.4 90.2,386.7 90.8,386.1 91.4,385.4 92,384.7 92.6,383.9 93.1,383.1 93.6,382.3 94.1,381.4 94.6,380.6 95,379.7 95.4,378.9 95.8,378 96.2,377.1 96.5,376.1 96.9,375.3 97.2,374.3 97.5,373.4 97.9,372.4 98.2,371.4 98.5,370.5 98.7,369.6 99,368.7 99.3,367.7 99.6,366.7 99.8,365.7 100.1,364.6 100.4,363.5 100.6,362.6 100.8,361.7 101.1,360.8 101.3,359.9 101.5,358.9 101.7,357.9 101.9,356.9 102.2,355.9 102.4,354.9 102.6,353.8 102.8,352.8 103,351.7 103.3,350.6 103.5,349.5 103.7,348.3 103.9,347.2 104.1,346 104.4,344.9 104.5,344 104.7,343.1 104.8,342.2 105,341.3 105.2,340.3 105.3,339.4 105.5,338.5 105.7,337.6 105.8,336.6 106,335.7 106.2,334.7 106.3,333.8 106.5,332.8 106.7,331.8 106.8,330.9 107,329.9 107.2,328.9 107.3,327.9 107.5,326.9 107.7,326 107.8,325 108,324 108.1,323 108.3,322 108.5,321 108.6,320 108.8,319 109,318.1 109.1,317.1 109.3,316.1 109.5,315.1 109.6,314.1 109.8,313.2 110,312.2 110.1,311.2 110.3,310.2 110.5,309.3 110.6,308.3 110.8,307.4 111,306.4 111.1,305.5 111.3,304.6 111.4,303.7 111.6,302.7 111.8,301.8 111.9,300.9 112.1,300.1 112.3,298.9 112.5,297.7 112.8,296.6 113,295.5 113.2,294.4 113.4,293.4 113.6,292.3 113.9,291.3 114.1,290.3 114.3,289.4 114.5,288.4 114.7,287.5 115,286.7 115.2,285.6 115.5,284.6 115.8,283.7 116.1,282.8 116.4,281.7 116.7,280.8 117.1,280 117.4,279.1 117.9,278.2 118.4,277.5 119,276.8 119.8,276.3 120.7,276.6 121.3,277.3 121.8,278.2 122.2,279 122.6,280 122.9,280.9 123.2,281.8 123.4,282.7 123.7,283.7 124,284.8 124.2,285.7 124.4,286.6 124.6,287.5 124.9,288.5 125.1,289.5 125.3,290.5 125.5,291.6 125.7,292.7 126,293.8 126.2,294.9 126.4,296 126.6,297.2 126.8,298.4 127,299.3 127.2,300.2 127.3,301.1 127.5,302 127.7,302.9 127.8,303.9 128,304.8 128.2,305.7 128.3,306.7 128.5,307.6 128.7,308.6 128.8,309.5 129,310.5 129.1,311.4 129.3,312.4 129.5,313.4 129.6,314.3 129.8,315.3 130,316.3 130.1,317.2 130.3,318.2 130.5,319.1 130.6,320.1 130.8,321 131,322 131.1,322.9 131.3,323.9 131.5,324.8 131.6,325.8 131.8,326.7 132,327.6 132.1,328.6 132.3,329.5 132.4,330.4 132.6,331.3 132.8,332.2 132.9,333.1 133.1,334 133.3,334.9 133.5,336 133.7,337.2 133.9,338.4 134.2,339.5 134.4,340.6 134.6,341.7 134.8,342.8 135,343.9 135.3,344.9 135.5,346 135.7,347 135.9,348 136.1,349.1 136.4,350 136.6,351 136.8,352 137,352.9 137.2,353.8 137.5,354.8 137.7,355.7 137.9,356.5 138.2,357.6 138.4,358.7 138.7,359.7 139,360.7 139.3,361.7 139.5,362.6 139.8,363.6 140.1,364.5 140.4,365.4 140.6,366.2 141,367.2 141.3,368.2 141.6,369.1 142,370 142.3,370.9 142.6,371.8 143,372.7 143.4,373.6 143.8,374.5 144.2,375.3 144.6,376.2 145,377.1 145.5,377.9 146,378.8 146.5,379.6 147,380.4 147.5,381.2 148.1,381.9 148.7,382.7 149.3,383.4 149.9,384.1 150.6,384.8 151.3,385.4 152,386 152.8,386.5 153.6,387 154.4,387.5 155.2,387.9 156,388.3 156.9,388.7 157.8,389 158.7,389.2 159.6,389.5 160.4,389.7 161.4,389.8 162.3,390 163.2,390.1 164.2,390.2 165.1,390.3 166,390.4 167,390.5 167.9,390.6 168.8,390.6 169.8,390.7 170.7,390.7 171.6,390.7 172.6,390.8 173.4,390.8" fill="none" stroke="#808080" stroke-width="0.95" stroke-linejoin="round"/>
<polyline points="76.8,390.8 77.7,390.7 78.6,390.7 79.6,390.6 80.5,390.5 81.4,390.4 82.4,390.3 83.3,390.1 84.2,389.9 85.1,389.6 85.9,389.3 86.8,388.9 87.6,388.5 88.4,388 89.2,387.5 89.9,386.9 90.6,386.3 91.2,385.6 91.8,384.8 92.4,384.1 92.9,383.3 93.4,382.6 93.9,381.7 94.3,380.9 94.8,380.1 95.2,379.2 95.6,378.3 96,377.4 96.4,376.5 96.7,375.6 97,374.7 97.4,373.8 97.7,372.9 98,371.9 98.3,371 98.6,370.1 98.9,369.2 99.1,368.2 99.4,367.2 99.7,366.2 100,365.2 100.2,364.1 100.4,363.2 100.7,362.3 100.9,361.4 101.1,360.5 101.3,359.5 101.5,358.6 101.8,357.6 102,356.6 102.2,355.5 102.4,354.5 102.6,353.4 102.9,352.3 103.1,351.2 103.3,350.1 103.5,349 103.7,347.8 104,346.7 104.1,345.8 104.3,344.9 104.5,344 104.6,343.1 104.8,342.1 105,341.2 105.1,340.3 105.3,339.3 105.5,338.4 105.6,337.4 105.8,336.4 105.9,335.5 106.1,334.5 106.3,333.5 106.4,332.5 106.6,331.5 106.8,330.5 106.9,329.5 107.1,328.5 107.3,327.4 107.4,326.4 107.6,325.4 107.8,324.4 107.9,323.3 108.1,322.3 108.3,321.2 108.4,320.2 108.6,319.1 108.8,318.1 108.9,317 109.1,316 109.2,314.9 109.4,313.9 109.6,312.8 109.7,311.8 109.9,310.7 110.1,309.7 110.2,308.6 110.4,307.6 110.6,306.6 110.7,305.5 110.9,304.5 111.1,303.5 111.2,302.4 111.4,301.4 111.6,300.4 111.7,299.4 111.9,298.4 112.1,297.4 112.2,296.4 112.4,295.4 112.5,294.5 112.7,293.5 112.9,292.6 113,291.6 113.2,290.7 113.4,289.8 113.5,288.8 113.7,287.9 113.9,287.1 114.1,285.9 114.3,284.7 114.5,283.6 114.7,282.5 115,281.5 115.2,280.4 115.4,279.4 115.6,278.4 115.8,277.5 116.1,276.6 116.3,275.7 116.6,274.6 116.8,273.6 117.1,272.6 117.4,271.7 117.7,270.7 118,269.8 118.4,268.9 118.8,268.1 119.2,267.2 119.7,266.5 120.4,265.8 121.2,265.5 122.1,265.9 122.6,266.6 123,267.5 123.4,268.4 123.8,269.2 124.1,270.2 124.4,271.1 124.6,272.1 124.9,273.1 125.2,274.2 125.4,275.1 125.6,276.1 125.9,277 126.1,278 126.3,279.1 126.5,280.2 126.7,281.3 127,282.4 127.2,283.5 127.4,284.7 127.6,285.6 127.7,286.5 127.9,287.4 128,288.3 128.2,289.2 128.4,290.2 128.5,291.1 128.7,292.1 128.9,293.1 129,294 129.2,295 129.4,296 129.5,297 129.7,298 129.9,299 130,300 130.2,301 130.4,302 130.5,303 130.7,304 130.9,305 131,306 131.2,307.1 131.3,308.1 131.5,309.1 131.7,310.1 131.8,311.1 132,312.1 132.2,313.1 132.3,314.1 132.5,315.1 132.7,316.1 132.8,317.1 133,318.1 133.2,319.1 133.3,320.1 133.5,321.1 133.7,322.1 133.8,323 134,324 134.2,325 134.3,325.9 134.5,326.9 134.6,327.8 134.8,328.7 135,329.7 135.1,330.6 135.3,331.5 135.5,332.4 135.6,333.3 135.8,334.2 136,335.1 136.2,336.3 136.4,337.4 136.6,338.6 136.8,339.7 137.1,340.8 137.3,341.9 137.5,343 137.7,344.1 137.9,345.1 138.2,346.2 138.4,347.2 138.6,348.2 138.8,349.2 139,350.2 139.3,351.1 139.5,352.1 139.7,353 139.9,353.9 140.1,354.8 140.4,355.7 140.6,356.8 140.9,357.8 141.2,358.9 141.5,359.9 141.7,360.9 142,361.8 142.3,362.7 142.6,363.7 142.8,364.5 143.1,365.4 143.4,366.4 143.8,367.4 144.1,368.3 144.4,369.2 144.8,370.1 145.1,371 145.5,371.9 145.9,372.8 146.2,373.7 146.6,374.6 147.1,375.5 147.5,376.4 148,377.2 148.4,378 148.9,378.8 149.4,379.6 149.9,380.4 150.5,381.2 151,381.9 151.6,382.7 152.2,383.4 152.9,384 153.6,384.7 154.3,385.3 155,385.9 155.8,386.4 156.5,386.9 157.4,387.4 158.2,387.8 159,388.2 159.9,388.5 160.8,388.8 161.6,389.1 162.5,389.3 163.4,389.5 164.3,389.7 165.3,389.9 166.2,390 167.1,390.2 168.1,390.3 169,390.4 169.9,390.4 170.9,390.5 171.8,390.6 172.7,390.6 173.7,390.7 174.6,390.7 175.6,390.7 176.5,390.8 177.4,390.8 177.5,390.8" fill="none" stroke="#808080" stroke-width="0.95" stroke-linejoin="round"/>
<polyline points="76.3,390.8 77.2,390.7 78.1,390.7 79.1,390.6 80,390.5 80.9,390.4 81.9,390.3 82.8,390.1 83.7,389.9 84.6,389.7 85.4,389.4 86.3,389 87.1,388.6 88,388.2 88.7,387.6 89.5,387.1 90.2,386.5 90.8,385.8 91.4,385.1 92,384.4 92.6,383.6 93.1,382.8 93.6,382 94.1,381.1 94.6,380.3 95,379.4 95.4,378.6 95.8,377.7 96.2,376.8 96.5,375.9 96.9,375 97.2,374.1 97.5,373.2 97.9,372.2 98.2,371.2 98.5,370.3 98.7,369.4 99,368.5 99.3,367.5 99.6,366.5 99.8,365.5 100.1,364.4 100.4,363.3 100.6,362.4 100.8,361.5 101.1,360.6 101.3,359.7 101.5,358.7 101.7,357.7 101.9,356.7 102.2,355.7 102.4,354.7 102.6,353.6 102.8,352.5 103,351.4 103.3,350.3 103.5,349.2 103.7,348 103.9,346.9 104.1,346 104.2,345.1 104.4,344.2 104.6,343.3 104.7,342.3 104.9,341.4 105.1,340.5 105.2,339.5 105.4,338.5 105.6,337.6 105.7,336.6 105.9,335.6 106.1,334.6 106.2,333.6 106.4,332.6 106.6,331.6 106.7,330.6 106.9,329.5 107,328.5 107.2,327.5 107.4,326.4 107.5,325.4 107.7,324.3 107.9,323.3 108,322.2 108.2,321.1 108.4,320 108.5,319 108.7,317.9 108.9,316.8 109,315.7 109.2,314.6 109.4,313.5 109.5,312.4 109.7,311.3 109.9,310.2 110,309.2 110.2,308.1 110.3,307 110.5,305.9 110.7,304.8 110.8,303.7 111,302.6 111.2,301.5 111.3,300.4 111.5,299.4 111.7,298.3 111.8,297.2 112,296.1 112.2,295.1 112.3,294 112.5,293 112.7,291.9 112.8,290.9 113,289.9 113.1,288.8 113.3,287.8 113.5,286.8 113.6,285.8 113.8,284.8 114,283.9 114.1,282.9 114.3,281.9 114.5,281 114.6,280.1 114.8,279.1 115,278.2 115.1,277.3 115.3,276.2 115.6,275 115.8,273.9 116,272.8 116.2,271.7 116.4,270.7 116.7,269.7 116.9,268.7 117.1,267.8 117.3,266.9 117.5,266 117.8,264.9 118.1,263.9 118.4,263 118.6,262.1 119,261.1 119.3,260.2 119.7,259.3 120.1,258.4 120.6,257.5 121.2,256.8 122,256.3 122.9,256.5 123.5,257.2 124,258 124.4,258.9 124.8,259.8 125.1,260.8 125.4,261.6 125.7,262.6 126,263.5 126.2,264.6 126.5,265.5 126.7,266.4 126.9,267.3 127.1,268.3 127.3,269.3 127.6,270.4 127.8,271.4 128,272.5 128.2,273.7 128.4,274.8 128.7,276 128.8,276.9 129,277.8 129.1,278.7 129.3,279.6 129.5,280.5 129.6,281.5 129.8,282.4 130,283.4 130.1,284.3 130.3,285.3 130.5,286.3 130.6,287.3 130.8,288.3 131,289.3 131.1,290.3 131.3,291.3 131.5,292.3 131.6,293.3 131.8,294.3 132,295.3 132.1,296.4 132.3,297.4 132.4,298.4 132.6,299.4 132.8,300.4 132.9,301.5 133.1,302.5 133.3,303.5 133.4,304.5 133.6,305.6 133.8,306.6 133.9,307.6 134.1,308.6 134.3,309.6 134.4,310.6 134.6,311.6 134.8,312.6 134.9,313.6 135.1,314.6 135.3,315.6 135.4,316.6 135.6,317.6 135.7,318.6 135.9,319.6 136.1,320.5 136.2,321.5 136.4,322.4 136.6,323.4 136.7,324.3 136.9,325.3 137.1,326.2 137.2,327.1 137.4,328 137.6,328.9 137.7,329.9 137.9,330.7 138.1,331.6 138.3,332.8 138.5,334 138.7,335.1 138.9,336.2 139.2,337.4 139.4,338.5 139.6,339.6 139.8,340.6 140,341.7 140.3,342.7 140.5,343.8 140.7,344.8 140.9,345.8 141.1,346.8 141.4,347.8 141.6,348.7 141.8,349.6 142,350.6 142.2,351.5 142.5,352.4 142.7,353.3 142.9,354.3 143.2,355.4 143.5,356.4 143.8,357.4 144,358.4 144.3,359.4 144.6,360.3 144.9,361.3 145.1,362.2 145.4,363 145.8,364.1 146.1,365 146.4,366 146.7,366.9 147.1,367.8 147.4,368.7 147.7,369.6 148.1,370.5 148.5,371.4 148.9,372.3 149.3,373.2 149.7,374 150.1,374.9 150.5,375.7 151,376.5 151.5,377.4 152,378.2 152.5,379 153,379.8 153.6,380.6 154.1,381.3 154.7,382 155.3,382.7 156,383.4 156.6,384.1 157.4,384.7 158.1,385.3 158.8,385.8 159.6,386.4 160.4,386.8 161.2,387.3 162,387.7 162.9,388 163.7,388.4 164.6,388.7 165.5,389 166.4,389.2 167.3,389.4 168.2,389.6 169.1,389.8 170.1,389.9 171,390.1 171.9,390.2 172.9,390.3 173.8,390.4 174.7,390.4 175.7,390.5 176.6,390.5 177.5,390.6 178.5,390.6 179.4,390.7 180.3,390.7 181.3,390.7 182.2,390.8 183.1,390.8 183.2,390.8" fill="none" stroke="#808080" stroke-width="0.95" stroke-linejoin="round"/>
<polyline points="76.8,390.8 77.7,390.7 78.7,390.7 79.6,390.6 80.5,390.5 81.5,390.4 82.4,390.3 83.4,390.1 84.2,389.9 85.1,389.6 86,389.3 86.9,389 87.7,388.5 88.5,388.1 89.3,387.5 90,386.9 90.7,386.3 91.3,385.6 91.9,384.9 92.5,384.2 93,383.4 93.5,382.6 94,381.8 94.5,381 94.9,380.1 95.3,379.2 95.7,378.4 96.1,377.5 96.5,376.5 96.8,375.7 97.2,374.8 97.5,373.8 97.8,372.9 98.1,371.8 98.4,371 98.7,370 99,369.1 99.2,368.1 99.5,367.1 99.8,366.1 100.1,365 100.3,364.2 100.5,363.3 100.7,362.3 100.9,361.4 101.2,360.5 101.4,359.5 101.6,358.5 101.8,357.5 102,356.4 102.3,355.3 102.5,354.3 102.7,353.2 102.9,352 103.1,350.9 103.4,349.7 103.5,348.8 103.7,347.9 103.9,347 104,346.1 104.2,345.2 104.4,344.2 104.5,343.3 104.7,342.3 104.8,341.3 105,340.4 105.2,339.4 105.3,338.4 105.5,337.3 105.7,336.3 105.8,335.3 106,334.2 106.2,333.2 106.3,332.1 106.5,331.1 106.7,330 106.8,328.9 107,327.8 107.2,326.7 107.3,325.6 107.5,324.5 107.7,323.4 107.8,322.2 108,321.1 108.1,320 108.3,318.8 108.5,317.7 108.6,316.5 108.8,315.4 109,314.2 109.1,313 109.3,311.9 109.5,310.7 109.6,309.5 109.8,308.3 110,307.2 110.1,306 110.3,304.8 110.5,303.6 110.6,302.4 110.8,301.3 111,300.1 111.1,298.9 111.3,297.7 111.4,296.6 111.6,295.4 111.8,294.2 111.9,293.1 112.1,291.9 112.3,290.7 112.4,289.6 112.6,288.4 112.8,287.3 112.9,286.2 113.1,285.1 113.3,283.9 113.4,282.8 113.6,281.7 113.8,280.6 113.9,279.6 114.1,278.5 114.2,277.4 114.4,276.4 114.6,275.3 114.7,274.3 114.9,273.3 115.1,272.3 115.2,271.3 115.4,270.3 115.6,269.4 115.7,268.4 115.9,267.5 116.1,266.6 116.2,265.7 116.4,264.5 116.7,263.4 116.9,262.3 117.1,261.2 117.3,260.2 117.5,259.2 117.8,258.2 118,257.3 118.2,256.4 118.5,255.3 118.8,254.3 119,253.3 119.3,252.5 119.6,251.5 120,250.6 120.4,249.7 120.8,248.9 121.3,248.1 122.1,247.5 122.9,247.4 123.7,248 124.3,248.8 124.7,249.6 125.1,250.5 125.4,251.3 125.7,252.3 126.1,253.3 126.3,254.2 126.6,255.2 126.9,256.2 127.2,257.3 127.4,258.2 127.6,259.2 127.8,260.1 128,261.1 128.3,262.1 128.5,263.2 128.7,264.2 128.9,265.3 129.1,266.4 129.4,267.5 129.6,268.7 129.8,269.8 130,271 130.2,271.9 130.4,272.8 130.5,273.7 130.7,274.7 130.9,275.6 131,276.5 131.2,277.5 131.3,278.4 131.5,279.3 131.7,280.3 131.8,281.3 132,282.2 132.2,283.2 132.3,284.2 132.5,285.1 132.7,286.1 132.8,287.1 133,288.1 133.2,289.1 133.3,290.1 133.5,291 133.7,292 133.8,293 134,294 134.2,295 134.3,296 134.5,297 134.6,298 134.8,299 135,299.9 135.1,300.9 135.3,301.9 135.5,302.9 135.6,303.9 135.8,304.8 136,305.8 136.1,306.8 136.3,307.7 136.5,308.7 136.6,309.7 136.8,310.6 137,311.6 137.1,312.5 137.3,313.4 137.5,314.4 137.6,315.3 137.8,316.2 137.9,317.2 138.1,318.1 138.3,319 138.4,319.9 138.6,320.8 138.8,321.7 138.9,322.6 139.2,323.7 139.4,324.9 139.6,326.1 139.8,327.2 140,328.3 140.3,329.4 140.5,330.5 140.7,331.6 140.9,332.7 141.1,333.8 141.4,334.8 141.6,335.9 141.8,336.9 142,337.9 142.2,338.9 142.5,339.9 142.7,340.9 142.9,341.9 143.1,342.8 143.3,343.8 143.6,344.7 143.8,345.6 144,346.5 144.2,347.4 144.4,348.3 144.7,349.3 145,350.4 145.3,351.4 145.5,352.5 145.8,353.4 146.1,354.4 146.4,355.4 146.6,356.3 146.9,357.2 147.2,358.1 147.5,359 147.7,359.9 148.1,360.9 148.4,361.8 148.7,362.8 149.1,363.7 149.4,364.6 149.7,365.5 150,366.4 150.4,367.3 150.8,368.3 151.2,369.2 151.6,370 152,370.9 152.4,371.8 152.8,372.7 153.3,373.5 153.7,374.3 154.2,375.2 154.7,376.1 155.2,376.9 155.7,377.6 156.3,378.4 156.8,379.2 157.4,379.9 158,380.6 158.6,381.3 159.2,382 159.9,382.7 160.5,383.3 161.3,383.9 162,384.5 162.7,385.1 163.5,385.6 164.3,386.1 165.1,386.5 165.9,387 166.8,387.3 167.6,387.7 168.5,388.1 169.4,388.4 170.3,388.6 171.2,388.9 172,389.1 172.9,389.3 173.8,389.5 174.8,389.6 175.7,389.8 176.7,389.9 177.6,390 178.5,390.1 179.5,390.2 180.4,390.3 181.3,390.4 182.3,390.4 183.2,390.5 184.1,390.5 185.1,390.6 186,390.6 186.9,390.7 187.9,390.7 188.8,390.7 189.7,390.7 190.7,390.8 191.6,390.8 191.9,390.8" fill="none" stroke="#999" stroke-width="1.85" stroke-linejoin="round"/>
<polyline points="401.6,390.8 402.4,390.2 403,389.5 403.7,388.9 404.3,388.2 404.9,387.5 405.5,386.8 406.2,386.1 406.9,385.5 407.6,384.8 408.3,384.2 409,383.7 409.8,383.1 410.6,382.6 411.4,382.2 412.3,381.8 413.2,381.5 414.1,381.2 414.9,381 415.8,380.8 416.8,380.7 417.7,380.6 418.6,380.6 419.6,380.7 420.5,380.8 421.4,381.1 422.2,381.4 423.1,381.7 423.9,382.1 424.7,382.6 425.6,383 426.4,383.5 427.2,383.9 428,384.4 428.8,384.8 429.6,385.3 430.4,385.7 431.3,386.2 432.1,386.6 432.9,387 433.8,387.4 434.6,387.7 435.5,388.1 436.4,388.4 437.3,388.7 438.2,388.9 439,389.2 439.9,389.4 440.8,389.6 441.7,389.7 442.6,389.9 443.5,390 444.5,390.2 445.4,390.3 446.4,390.4 447.3,390.4 448.2,390.5 449.2,390.6 450.1,390.6 451.1,390.7 452,390.7 452.9,390.7 453.9,390.8 454.7,390.8" fill="none" stroke="#808080" stroke-width="0.95" stroke-linejoin="round"/>
<polyline points="401.5,390.8 402.1,390 402.6,389.2 403,388.3 403.4,387.5 403.8,386.6 404.2,385.7 404.7,384.8 405.1,383.9 405.5,383 405.9,382.2 406.3,381.3 406.7,380.5 407.2,379.7 407.7,378.8 408.2,378.1 408.7,377.2 409.2,376.4 409.8,375.6 410.3,374.9 411,374.2 411.6,373.5 412.3,372.9 413,372.3 413.8,371.7 414.6,371.3 415.4,370.9 416.3,370.6 417.2,370.4 418.1,370.2 419.1,370.2 420,370.3 420.9,370.6 421.7,371 422.5,371.4 423.3,372 424,372.6 424.7,373.2 425.4,373.8 426.1,374.5 426.7,375.2 427.4,375.8 428,376.5 428.6,377.1 429.2,377.8 429.9,378.5 430.5,379.1 431.2,379.8 431.8,380.5 432.5,381.1 433.2,381.8 433.9,382.4 434.6,383 435.3,383.6 436.1,384.2 436.8,384.7 437.6,385.3 438.4,385.8 439.2,386.3 440,386.7 440.8,387.2 441.7,387.6 442.5,387.9 443.4,388.3 444.3,388.6 445.2,388.8 446,389.1 446.9,389.3 447.8,389.5 448.7,389.7 449.6,389.8 450.5,390 451.5,390.1 452.4,390.2 453.3,390.3 454.3,390.4 455.2,390.5 456.2,390.5 457.1,390.6 458,390.6 459,390.7 459.9,390.7 460.9,390.7 461.8,390.8 462.5,390.8" fill="none" stroke="#808080" stroke-width="0.95" stroke-linejoin="round"/>
<polyline points="401.5,390.8 402,389.9 402.4,389 402.7,388.1 403,387.2 403.3,386.3 403.6,385.3 403.9,384.4 404.2,383.4 404.6,382.4 404.9,381.4 405.2,380.5 405.5,379.5 405.8,378.6 406.1,377.7 406.4,376.8 406.7,375.9 407.1,375 407.4,374.1 407.8,373.1 408.2,372.2 408.5,371.3 408.9,370.5 409.3,369.6 409.7,368.7 410.1,367.9 410.6,367.1 411.1,366.3 411.6,365.4 412.1,364.7 412.7,363.9 413.3,363.2 413.9,362.5 414.6,361.9 415.4,361.4 416.1,360.9 417,360.5 417.9,360.3 418.8,360.1 419.7,360.1 420.6,360.4 421.4,360.9 422.1,361.6 422.7,362.3 423.3,363 423.8,363.8 424.3,364.6 424.8,365.4 425.3,366.2 425.7,367 426.2,367.9 426.7,368.8 427.1,369.7 427.6,370.6 428.1,371.5 428.6,372.4 429,373.2 429.5,374.1 430,375 430.4,375.8 430.9,376.6 431.4,377.4 431.8,378.2 432.4,379 432.9,379.8 433.4,380.6 434,381.4 434.6,382.1 435.1,382.8 435.8,383.6 436.4,384.2 437.1,384.9 437.7,385.5 438.5,386.1 439.2,386.7 440,387.2 440.8,387.7 441.6,388.1 442.4,388.5 443.3,388.9 444.2,389.2 445.1,389.5 445.9,389.7 446.8,389.9 447.7,390.1 448.7,390.2 449.6,390.3 450.5,390.4 451.5,390.5 452.4,390.6 453.3,390.6 454.3,390.7 455.2,390.7 456.2,390.8 456.5,390.8" fill="none" stroke="#808080" stroke-width="0.95" stroke-linejoin="round"/>
<polyline points="401.5,390.8 401.9,389.9 402.2,389 402.5,388.1 402.7,387.2 403,386.2 403.2,385.2 403.5,384.2 403.8,383.1 404,382.1 404.3,381 404.6,380 404.8,379 405.1,377.9 405.3,376.9 405.6,375.9 405.9,374.9 406.1,373.9 406.4,372.9 406.6,371.9 406.9,371 407.2,370.1 407.4,369.2 407.7,368.3 408,367.3 408.3,366.3 408.6,365.3 408.9,364.4 409.2,363.5 409.6,362.6 409.9,361.6 410.3,360.7 410.7,359.8 411,359 411.4,358.1 411.9,357.3 412.3,356.4 412.8,355.6 413.3,354.7 413.8,354 414.4,353.2 415,352.5 415.7,351.9 416.5,351.3 417.2,350.9 418.1,350.5 419,350.3 419.9,350.2 420.8,350.4 421.5,351 422.1,351.7 422.7,352.4 423.2,353.3 423.7,354.2 424.1,355 424.5,355.9 425,356.8 425.3,357.6 425.7,358.5 426.1,359.4 426.4,360.3 426.8,361.2 427.1,362.2 427.5,363.1 427.9,364 428.2,365 428.6,365.9 429,366.9 429.3,367.8 429.7,368.7 430.1,369.6 430.4,370.5 430.8,371.4 431.2,372.3 431.5,373.1 432,374 432.4,375 432.8,375.8 433.2,376.7 433.6,377.5 434.1,378.4 434.6,379.2 435,380 435.6,380.9 436.1,381.7 436.6,382.4 437.2,383.2 437.7,383.9 438.4,384.6 439,385.2 439.7,385.9 440.4,386.5 441.1,387.1 441.9,387.6 442.7,388 443.5,388.5 444.4,388.9 445.3,389.2 446.1,389.5 447,389.7 447.9,389.9 448.8,390.1 449.7,390.2 450.7,390.4 451.6,390.5 452.6,390.6 453.5,390.6 454.4,390.7 455.4,390.7 456.3,390.8 457,390.8" fill="none" stroke="#808080" stroke-width="0.95" stroke-linejoin="round"/>
<polyline points="401.5,390.8 401.8,389.9 402.1,389 402.4,388 402.6,386.9 402.8,386 403,385 403.2,384.1 403.5,383.1 403.7,382.1 403.9,381.1 404.1,380.1 404.3,379.1 404.5,378 404.7,377 404.9,376 405.1,375 405.3,374 405.5,373 405.8,372 406,371.1 406.2,370.1 406.4,369.2 406.6,368.2 406.8,367.3 407,366.4 407.2,365.5 407.4,364.6 407.7,363.6 407.9,362.5 408.2,361.5 408.5,360.5 408.7,359.5 409,358.6 409.2,357.6 409.5,356.7 409.8,355.9 410.1,354.9 410.4,353.9 410.7,353 411,352.1 411.3,351.2 411.7,350.3 412.1,349.4 412.4,348.5 412.9,347.6 413.3,346.8 413.7,345.9 414.2,345.1 414.7,344.3 415.3,343.5 415.9,342.8 416.6,342.1 417.3,341.5 418.1,341 419,340.7 419.8,340.5 420.8,340.6 421.6,341 422.2,341.7 422.7,342.4 423.2,343.2 423.6,344.1 424,345 424.4,345.8 424.7,346.7 425.1,347.7 425.4,348.5 425.7,349.4 426.1,350.3 426.4,351.3 426.7,352.2 427,353.2 427.3,354.2 427.6,355.1 427.9,356.1 428.2,357.1 428.6,358.1 428.9,359.1 429.2,360.1 429.5,361.1 429.8,362.1 430.1,363.1 430.4,364 430.8,365 431.1,365.9 431.4,366.8 431.7,367.7 432,368.6 432.3,369.5 432.6,370.4 433,371.3 433.4,372.3 433.7,373.2 434.1,374.1 434.5,374.9 434.8,375.7 435.2,376.7 435.7,377.5 436.1,378.3 436.5,379.2 437,380.1 437.5,380.9 438,381.7 438.5,382.5 439.1,383.2 439.7,384 440.3,384.7 440.9,385.4 441.6,386 442.3,386.6 443.1,387.2 443.8,387.7 444.6,388.2 445.5,388.6 446.3,388.9 447.2,389.3 448.1,389.5 449,389.8 449.9,390 450.7,390.1 451.7,390.3 452.6,390.4 453.6,390.5 454.5,390.6 455.4,390.6 456.4,390.7 457.3,390.7 458.3,390.8 458.7,390.8" fill="none" stroke="#808080" stroke-width="0.95" stroke-linejoin="round"/>
<polyline points="395.1,390.8 396,390.7 397,390.7 397.9,390.6 398.9,390.5 399.8,390.3 400.7,390.1 401.5,389.8 401.9,388.8 402.2,387.9 402.4,386.9 402.7,385.9 402.9,384.8 403.1,383.9 403.4,383 403.6,382 403.8,381.1 404,380.1 404.2,379.1 404.4,378.1 404.6,377.2 404.8,376.2 405,375.2 405.2,374.2 405.4,373.2 405.6,372.2 405.9,371.2 406.1,370.2 406.3,369.3 406.5,368.3 406.7,367.3 406.9,366.4 407.1,365.4 407.3,364.5 407.5,363.6 407.7,362.7 407.9,361.8 408.2,360.9 408.4,360 408.6,359.1 408.8,358 409.1,356.9 409.4,355.9 409.6,354.8 409.9,353.8 410.1,352.8 410.4,351.8 410.7,350.9 410.9,349.9 411.2,349 411.4,348.1 411.7,347.2 412,346.3 412.3,345.3 412.6,344.3 412.9,343.4 413.2,342.5 413.5,341.6 413.8,340.7 414.2,339.8 414.6,338.9 414.9,338 415.4,337.1 415.8,336.2 416.2,335.4 416.7,334.6 417.2,333.8 417.8,333 418.4,332.3 419.1,331.7 419.9,331.3 420.8,331.1 421.7,331.4 422.3,332.1 422.9,332.8 423.3,333.7 423.8,334.6 424.1,335.4 424.5,336.4 424.8,337.2 425.1,338.2 425.4,339.1 425.7,340.1 426.1,341.1 426.3,342 426.6,342.9 426.8,343.8 427.1,344.8 427.4,345.7 427.6,346.7 427.9,347.6 428.1,348.6 428.4,349.6 428.7,350.6 428.9,351.6 429.2,352.6 429.4,353.5 429.7,354.5 430,355.5 430.2,356.5 430.5,357.4 430.8,358.4 431,359.3 431.3,360.3 431.5,361.2 431.8,362.1 432.1,363 432.3,363.9 432.6,364.8 432.9,365.8 433.2,366.8 433.5,367.8 433.8,368.7 434.1,369.7 434.5,370.6 434.8,371.4 435.1,372.3 435.4,373.3 435.8,374.2 436.2,375.1 436.5,375.9 436.9,376.8 437.3,377.7 437.7,378.5 438.2,379.3 438.6,380.2 439.1,381 439.6,381.8 440.1,382.6 440.7,383.4 441.3,384.2 441.9,384.9 442.5,385.5 443.2,386.2 444,386.8 444.7,387.3 445.5,387.8 446.3,388.3 447.1,388.7 448,389.1 448.9,389.4 449.7,389.6 450.6,389.9 451.5,390 452.4,390.2 453.3,390.3 454.3,390.4 455.2,390.5 456.2,390.6 457.1,390.7 458,390.7 459,390.7 459.9,390.8" fill="none" stroke="#808080" stroke-width="0.95" stroke-linejoin="round"/>
<polyline points="393.1,390.8 394.1,390.7 395,390.7 395.9,390.5 396.9,390.4 397.8,390.2 398.7,390 399.5,389.7 400.4,389.4 401.2,389 401.7,388.2 402,387.4 402.4,386.4 402.6,385.5 402.9,384.6 403.1,383.6 403.4,382.6 403.7,381.5 403.9,380.5 404.2,379.4 404.4,378.3 404.7,377.4 404.9,376.5 405.1,375.6 405.3,374.7 405.5,373.8 405.7,372.9 405.9,372 406.1,371.1 406.3,370.1 406.5,369.2 406.7,368.3 407,367.3 407.2,366.4 407.4,365.5 407.6,364.5 407.8,363.6 408,362.7 408.2,361.7 408.4,360.8 408.6,359.9 408.8,359 409,358 409.2,357.1 409.5,356.2 409.7,355.3 409.9,354.3 410.1,353.4 410.3,352.5 410.5,351.6 410.7,350.7 410.9,349.8 411.1,348.9 411.3,348 411.5,347.2 411.8,346.1 412.1,345 412.3,343.9 412.6,342.9 412.9,341.8 413.1,340.8 413.4,339.8 413.6,338.8 413.9,337.8 414.2,336.9 414.4,335.9 414.7,335 414.9,334.1 415.2,333.3 415.5,332.3 415.8,331.3 416.1,330.4 416.5,329.5 416.8,328.5 417.2,327.6 417.5,326.8 418,325.9 418.4,325 419,324.2 419.5,323.5 420.2,322.9 421,322.5 421.9,322.7 422.6,323.3 423.1,324 423.6,324.9 424,325.8 424.4,326.7 424.7,327.6 425,328.5 425.3,329.5 425.6,330.5 425.9,331.4 426.2,332.3 426.4,333.3 426.7,334.2 426.9,335.2 427.2,336.2 427.5,337.3 427.7,338.3 428,339.4 428.2,340.5 428.5,341.6 428.7,342.4 428.9,343.3 429.1,344.2 429.3,345.1 429.6,346 429.8,346.8 430,347.7 430.2,348.6 430.4,349.5 430.6,350.4 430.9,351.5 431.1,352.5 431.4,353.6 431.6,354.7 431.9,355.7 432.2,356.8 432.4,357.8 432.7,358.8 432.9,359.8 433.2,360.8 433.5,361.7 433.7,362.7 434,363.6 434.2,364.5 434.5,365.4 434.8,366.3 435.1,367.3 435.4,368.3 435.7,369.3 436,370.2 436.3,371.1 436.6,372 437,372.9 437.3,373.8 437.7,374.8 438.1,375.6 438.4,376.5 438.8,377.4 439.3,378.3 439.7,379.1 440.1,380 440.6,380.8 441.1,381.6 441.6,382.4 442.1,383.1 442.7,383.9 443.3,384.6 444,385.3 444.6,386 445.3,386.6 446,387.1 446.8,387.7 447.6,388.1 448.4,388.6 449.3,388.9 450.2,389.3 451.1,389.5 451.9,389.8 452.8,390 453.7,390.1 454.7,390.3 455.6,390.4 456.5,390.5 457.5,390.6 458.4,390.6 459.3,390.7 460.3,390.7 461.2,390.8 461.8,390.8" fill="none" stroke="#808080" stroke-width="0.95" stroke-linejoin="round"/>
<polyline points="391.6,390.8 392.5,390.7 393.4,390.6 394.4,390.5 395.3,390.4 396.2,390.2 397.1,390 398,389.6 398.8,389.3 399.6,388.8 400.4,388.2 401.2,387.6 401.7,386.8 402.2,385.9 402.5,385 402.8,384.1 403.1,383.2 403.5,382.2 403.8,381.2 404,380.4 404.3,379.5 404.6,378.6 404.8,377.6 405.1,376.7 405.3,375.7 405.6,374.7 405.9,373.7 406.1,372.7 406.4,371.6 406.6,370.6 406.9,369.5 407.1,368.6 407.3,367.7 407.5,366.8 407.7,365.9 407.9,365 408.2,364.1 408.4,363.2 408.6,362.2 408.8,361.3 409,360.3 409.2,359.3 409.4,358.4 409.6,357.4 409.8,356.4 410,355.4 410.2,354.4 410.4,353.4 410.7,352.4 410.9,351.3 411.1,350.3 411.3,349.3 411.5,348.3 411.7,347.2 411.9,346.2 412.1,345.2 412.3,344.2 412.5,343.1 412.7,342.1 413,341.1 413.2,340.1 413.4,339.1 413.6,338 413.8,337.1 414,336.1 414.2,335.1 414.4,334.1 414.6,333.1 414.8,332.2 415,331.3 415.3,330.3 415.5,329.4 415.7,328.6 415.9,327.5 416.2,326.4 416.5,325.4 416.7,324.4 417,323.4 417.2,322.5 417.5,321.7 417.8,320.7 418.1,319.7 418.4,318.8 418.8,317.9 419.2,317.1 419.6,316.3 420.1,315.5 420.6,314.8 421.4,314.3 422.3,314.3 423,314.9 423.5,315.7 424,316.6 424.3,317.4 424.7,318.3 425,319.2 425.3,320.2 425.6,321.2 425.9,322.1 426.2,323 426.4,324 426.7,325 426.9,326 427.2,327 427.5,328.1 427.7,329 427.9,329.9 428.1,330.8 428.3,331.7 428.5,332.7 428.7,333.6 428.9,334.5 429.1,335.5 429.3,336.5 429.6,337.4 429.8,338.4 430,339.3 430.2,340.3 430.4,341.3 430.6,342.2 430.8,343.2 431,344.2 431.2,345.1 431.4,346.1 431.6,347 431.8,348 432.1,348.9 432.3,349.9 432.5,350.8 432.7,351.7 432.9,352.6 433.1,353.5 433.3,354.4 433.5,355.3 433.8,356.3 434,357.4 434.3,358.5 434.6,359.5 434.8,360.5 435.1,361.5 435.3,362.5 435.6,363.4 435.9,364.3 436.1,365.3 436.4,366.1 436.6,367 437,368 437.3,369 437.6,370 437.9,370.9 438.2,371.8 438.5,372.6 438.9,373.6 439.3,374.5 439.6,375.4 440,376.3 440.4,377.2 440.8,378.1 441.2,378.9 441.7,379.8 442.2,380.6 442.6,381.4 443.2,382.2 443.7,383 444.3,383.7 444.9,384.5 445.5,385.2 446.2,385.8 446.9,386.4 447.6,387 448.4,387.5 449.2,388 450,388.4 450.8,388.8 451.7,389.2 452.6,389.4 453.5,389.7 454.4,389.9 455.3,390.1 456.2,390.2 457.2,390.3 458.1,390.4 459,390.5 460,390.6 460.9,390.7 461.9,390.7 462.8,390.7 463.7,390.8 463.9,390.8" fill="none" stroke="#808080" stroke-width="0.95" stroke-linejoin="round"/>
<polyline points="390,390.8 390.9,390.7 391.9,390.6 392.8,390.5 393.7,390.4 394.6,390.2 395.5,390 396.4,389.6 397.2,389.2 398,388.8 398.8,388.2 399.5,387.6 400.2,386.9 400.8,386.2 401.4,385.4 401.9,384.6 402.4,383.8 402.9,382.9 403.3,382.1 403.7,381.2 404.1,380.3 404.4,379.4 404.8,378.4 405.1,377.6 405.4,376.6 405.8,375.7 406.1,374.7 406.3,373.8 406.6,372.9 406.8,371.9 407.1,371 407.4,369.9 407.6,368.9 407.9,367.8 408.1,367 408.3,366.1 408.5,365.1 408.7,364.2 408.9,363.2 409.1,362.3 409.4,361.3 409.6,360.3 409.8,359.2 410,358.2 410.2,357.1 410.4,356 410.6,354.9 410.8,353.8 411,352.7 411.2,351.6 411.4,350.4 411.6,349.3 411.9,348.1 412.1,346.9 412.3,345.8 412.4,344.9 412.6,344 412.7,343.1 412.9,342.2 413.1,341.3 413.2,340.4 413.4,339.5 413.5,338.6 413.7,337.7 413.8,336.8 414,335.9 414.2,335 414.3,334.1 414.5,333.2 414.7,332 414.9,330.9 415.1,329.7 415.3,328.6 415.5,327.4 415.7,326.3 415.9,325.2 416.1,324.1 416.3,323.1 416.6,322 416.8,321 417,320 417.2,319 417.4,318.1 417.6,317.2 417.8,316.3 418.1,315.2 418.3,314.2 418.6,313.2 418.9,312.3 419.2,311.3 419.5,310.4 419.8,309.4 420.2,308.5 420.6,307.7 421.1,307 421.9,306.4 422.8,306.4 423.4,307 424,307.8 424.4,308.7 424.7,309.5 425.1,310.5 425.4,311.4 425.7,312.4 426,313.3 426.3,314.2 426.5,315.1 426.8,316.1 427,317.2 427.3,318.3 427.5,319.1 427.7,320 427.9,321 428.1,321.9 428.4,322.8 428.6,323.8 428.8,324.8 429,325.8 429.2,326.8 429.4,327.8 429.6,328.8 429.8,329.8 430,330.8 430.2,331.9 430.4,332.9 430.6,333.9 430.9,335 431.1,336 431.3,337 431.5,338.1 431.7,339.1 431.9,340.1 432.1,341.2 432.3,342.2 432.5,343.2 432.7,344.2 432.9,345.2 433.2,346.2 433.4,347.2 433.6,348.2 433.8,349.1 434,350.1 434.2,351 434.4,352 434.6,352.9 434.8,353.8 435,354.7 435.2,355.6 435.4,356.5 435.7,357.5 436,358.6 436.2,359.6 436.5,360.6 436.8,361.6 437,362.6 437.3,363.6 437.5,364.5 437.8,365.4 438.1,366.3 438.3,367.2 438.6,368.2 438.9,369.1 439.3,370.1 439.6,371 439.9,371.9 440.2,372.7 440.6,373.7 440.9,374.6 441.3,375.5 441.7,376.3 442.1,377.2 442.5,378.1 442.9,378.9 443.4,379.8 443.8,380.6 444.4,381.5 444.9,382.2 445.5,383 446,383.8 446.7,384.5 447.3,385.2 448,385.8 448.7,386.5 449.4,387 450.2,387.5 451,388 451.8,388.4 452.7,388.8 453.6,389.1 454.4,389.4 455.3,389.7 456.2,389.9 457.1,390 458,390.2 459,390.3 459.9,390.4 460.9,390.5 461.8,390.6 462.7,390.6 463.7,390.7 464.6,390.7 465.6,390.8 466.2,390.8" fill="none" stroke="#808080" stroke-width="0.95" stroke-linejoin="round"/>
<polyline points="389.2,390.8 390.1,390.7 391,390.6 392,390.5 392.9,390.4 393.8,390.2 394.7,390 395.6,389.7 396.4,389.3 397.2,388.9 398,388.3 398.8,387.7 399.4,387.1 400.1,386.4 400.6,385.6 401.2,384.9 401.7,384.1 402.2,383.2 402.6,382.4 403,381.5 403.4,380.7 403.7,379.8 404.1,378.9 404.4,378 404.7,377.2 405,376.2 405.3,375.2 405.6,374.2 405.9,373.3 406.2,372.4 406.4,371.4 406.7,370.4 407,369.4 407.2,368.3 407.5,367.3 407.7,366.4 407.9,365.4 408.1,364.5 408.3,363.5 408.5,362.6 408.7,361.5 408.9,360.5 409.1,359.5 409.4,358.4 409.6,357.3 409.8,356.3 410,355.1 410.2,354 410.4,352.9 410.6,351.7 410.8,350.5 411,349.6 411.1,348.7 411.3,347.8 411.4,346.9 411.6,346 411.8,345.1 411.9,344.1 412.1,343.2 412.2,342.3 412.4,341.3 412.5,340.4 412.7,339.4 412.9,338.4 413,337.5 413.2,336.5 413.3,335.6 413.5,334.6 413.6,333.6 413.8,332.7 413.9,331.7 414.1,330.8 414.3,329.8 414.4,328.8 414.6,327.9 414.7,326.9 414.9,326 415,325.1 415.2,324.1 415.4,323.2 415.5,322.3 415.7,321.4 415.8,320.5 416,319.6 416.2,318.4 416.4,317.2 416.6,316.1 416.8,315 417,313.9 417.2,312.8 417.4,311.8 417.7,310.8 417.9,309.8 418.1,308.8 418.3,307.9 418.5,307 418.7,305.9 419,304.9 419.3,303.9 419.5,303 419.8,302 420.2,301.1 420.5,300.2 420.9,299.3 421.4,298.5 422,297.8 422.9,297.5 423.7,298 424.2,298.8 424.7,299.6 425.1,300.5 425.4,301.5 425.7,302.4 426.1,303.4 426.3,304.3 426.6,305.2 426.8,306.2 427.1,307.3 427.4,308.3 427.6,309.2 427.8,310.1 428,311.1 428.2,312 428.4,313 428.6,314 428.8,315 429,316.1 429.2,317.1 429.4,318.1 429.7,319.2 429.9,320.3 430.1,321.4 430.3,322.5 430.5,323.6 430.7,324.7 430.9,325.8 431.1,326.9 431.3,328 431.5,329.1 431.7,330.2 432,331.3 432.2,332.4 432.4,333.6 432.6,334.7 432.8,335.8 433,336.9 433.2,337.9 433.4,339 433.6,340.1 433.8,341.2 434,342.2 434.2,343.3 434.5,344.3 434.7,345.4 434.9,346.4 435.1,347.4 435.3,348.4 435.5,349.4 435.7,350.4 435.9,351.3 436.1,352.3 436.3,353.2 436.5,354.1 436.8,355 437,355.9 437.2,356.8 437.4,357.9 437.7,358.9 438,360 438.2,361 438.5,362 438.7,363 439,363.9 439.3,364.8 439.5,365.7 439.8,366.6 440.1,367.6 440.4,368.6 440.7,369.6 441,370.5 441.3,371.4 441.7,372.2 442,373.2 442.4,374.1 442.8,375 443.1,375.9 443.5,376.8 444,377.7 444.4,378.5 444.8,379.4 445.3,380.2 445.8,381 446.3,381.8 446.8,382.6 447.4,383.3 448,384 448.6,384.7 449.3,385.4 450,386 450.7,386.6 451.4,387.1 452.2,387.6 453,388.1 453.9,388.5 454.7,388.9 455.6,389.2 456.5,389.4 457.4,389.7 458.3,389.9 459.1,390 460.1,390.2 461,390.3 462,390.4 462.9,390.5 463.8,390.6 464.8,390.6 465.7,390.7 466.7,390.7 467.6,390.8 468.5,390.8" fill="none" stroke="#808080" stroke-width="0.95" stroke-linejoin="round"/>
<polyline points="388,390.8 388.9,390.7 389.9,390.7 390.8,390.6 391.8,390.4 392.7,390.3 393.5,390.1 394.4,389.8 395.3,389.4 396.1,389 396.9,388.5 397.7,388 398.3,387.4 399,386.7 399.6,386 400.2,385.2 400.7,384.4 401.2,383.6 401.7,382.8 402.1,381.9 402.5,381.1 402.9,380.2 403.2,379.3 403.6,378.4 403.9,377.5 404.2,376.6 404.6,375.7 404.9,374.7 405.2,373.7 405.4,372.8 405.7,371.9 406,370.9 406.2,369.9 406.5,368.9 406.7,367.8 407,366.7 407.2,365.8 407.4,364.9 407.6,364 407.8,363 408,362 408.3,361 408.5,360 408.7,359 408.9,357.9 409.1,356.8 409.3,355.7 409.5,354.6 409.7,353.5 409.9,352.3 410.1,351.2 410.3,350.3 410.4,349.4 410.6,348.5 410.8,347.6 410.9,346.7 411.1,345.7 411.2,344.8 411.4,343.9 411.5,342.9 411.7,341.9 411.9,341 412,340 412.2,339.1 412.3,338.1 412.5,337.1 412.6,336.1 412.8,335.1 413,334.1 413.1,333.2 413.3,332.2 413.4,331.2 413.6,330.2 413.7,329.2 413.9,328.2 414.1,327.2 414.2,326.2 414.4,325.2 414.5,324.2 414.7,323.2 414.8,322.3 415,321.3 415.1,320.3 415.3,319.4 415.5,318.4 415.6,317.5 415.8,316.5 415.9,315.6 416.1,314.6 416.2,313.7 416.4,312.8 416.6,311.9 416.7,311 416.9,309.9 417.1,308.7 417.3,307.6 417.5,306.5 417.8,305.4 418,304.4 418.2,303.4 418.4,302.4 418.6,301.4 418.8,300.5 419,299.6 419.3,298.6 419.5,297.6 419.8,296.6 420.1,295.7 420.4,294.7 420.7,293.9 421,293 421.5,292.1 421.9,291.3 422.6,290.6 423.4,290.4 424.2,290.9 424.7,291.7 425.2,292.6 425.5,293.4 425.9,294.4 426.2,295.4 426.5,296.4 426.8,297.3 427,298.3 427.3,299.3 427.6,300.3 427.8,301.2 428,302.1 428.2,303.1 428.4,304 428.6,305 428.8,306 429,307 429.2,308.1 429.4,309.1 429.7,310.2 429.9,311.3 430.1,312.4 430.3,313.5 430.5,314.6 430.7,315.7 430.9,316.8 431.1,318 431.3,319.1 431.5,320.3 431.7,321.4 432,322.6 432.2,323.8 432.4,324.9 432.6,326.1 432.8,327.2 433,328.4 433.2,329.5 433.4,330.7 433.6,331.8 433.8,333 434,334.1 434.2,335.2 434.5,336.4 434.7,337.5 434.9,338.6 435.1,339.7 435.3,340.7 435.5,341.8 435.7,342.9 435.9,343.9 436.1,345 436.3,346 436.5,347 436.8,348 437,349 437.2,350 437.4,350.9 437.6,351.9 437.8,352.8 438,353.8 438.2,354.7 438.4,355.6 438.6,356.4 438.9,357.5 439.2,358.6 439.4,359.6 439.7,360.6 439.9,361.6 440.2,362.6 440.5,363.5 440.7,364.4 441,365.3 441.2,366.2 441.6,367.2 441.9,368.2 442.2,369.1 442.5,370.1 442.8,370.9 443.1,371.8 443.5,372.8 443.8,373.7 444.2,374.6 444.6,375.4 445,376.4 445.4,377.2 445.8,378.1 446.3,379 446.8,379.8 447.2,380.6 447.8,381.4 448.3,382.1 448.9,382.9 449.4,383.6 450.1,384.3 450.7,385 451.4,385.6 452.1,386.2 452.8,386.8 453.6,387.3 454.4,387.8 455.2,388.2 456.1,388.6 456.9,388.9 457.8,389.2 458.7,389.5 459.6,389.7 460.5,389.9 461.4,390 462.3,390.2 463.3,390.3 464.2,390.4 465.1,390.5 466.1,390.6 467,390.6 468,390.7 468.9,390.7 469.8,390.7 470.8,390.8 471.1,390.8" fill="none" stroke="#808080" stroke-width="0.95" stroke-linejoin="round"/>
<polyline points="386.9,390.8 387.8,390.7 388.7,390.7 389.7,390.6 390.6,390.5 391.5,390.3 392.4,390.1 393.3,389.9 394.2,389.5 395,389.2 395.8,388.7 396.6,388.2 397.4,387.6 398,386.9 398.7,386.2 399.2,385.5 399.8,384.7 400.3,383.9 400.8,383.1 401.3,382.2 401.7,381.4 402.1,380.5 402.5,379.6 402.8,378.7 403.2,377.8 403.5,376.9 403.8,376 404.1,375 404.4,374 404.7,373.2 405,372.3 405.2,371.4 405.5,370.4 405.8,369.4 406,368.4 406.3,367.3 406.5,366.2 406.7,365.3 407,364.4 407.2,363.5 407.4,362.5 407.6,361.5 407.8,360.5 408,359.5 408.2,358.5 408.4,357.4 408.6,356.3 408.8,355.2 409,354.1 409.2,353 409.5,351.8 409.7,350.7 409.8,349.8 410,348.9 410.1,348 410.3,347 410.4,346.1 410.6,345.2 410.8,344.2 410.9,343.3 411.1,342.3 411.2,341.4 411.4,340.4 411.5,339.4 411.7,338.4 411.9,337.4 412,336.4 412.2,335.4 412.3,334.4 412.5,333.4 412.6,332.4 412.8,331.4 413,330.4 413.1,329.4 413.3,328.3 413.4,327.3 413.6,326.3 413.7,325.3 413.9,324.2 414.1,323.2 414.2,322.2 414.4,321.2 414.5,320.1 414.7,319.1 414.8,318.1 415,317.1 415.1,316.1 415.3,315.1 415.5,314.1 415.6,313.1 415.8,312.1 415.9,311.1 416.1,310.2 416.2,309.2 416.4,308.3 416.6,307.3 416.7,306.4 416.9,305.5 417,304.6 417.2,303.7 417.4,302.5 417.6,301.3 417.8,300.2 418,299.1 418.2,298 418.4,297 418.6,296 418.9,295 419.1,294 419.3,293.1 419.5,292.2 419.7,291.1 420,290.1 420.3,289.2 420.5,288.3 420.8,287.3 421.1,286.5 421.5,285.5 421.9,284.7 422.4,283.9 423,283.2 423.9,283 424.6,283.5 425.2,284.3 425.6,285.1 425.9,286 426.3,286.9 426.6,287.9 426.9,288.9 427.2,289.8 427.5,290.8 427.7,291.8 428,292.9 428.2,293.8 428.4,294.7 428.6,295.7 428.8,296.7 429,297.7 429.2,298.7 429.4,299.7 429.7,300.8 429.9,301.9 430.1,303 430.3,304.1 430.5,305.2 430.7,306.3 430.9,307.5 431.1,308.7 431.3,309.8 431.5,311 431.7,311.9 431.8,312.8 432,313.7 432.2,314.6 432.3,315.5 432.5,316.4 432.6,317.3 432.8,318.2 432.9,319.1 433.1,320 433.3,320.9 433.4,321.8 433.6,322.7 433.7,323.6 433.9,324.5 434,325.4 434.2,326.3 434.4,327.2 434.5,328.1 434.7,329 434.9,330.2 435.1,331.3 435.3,332.5 435.5,333.6 435.7,334.8 435.9,335.9 436.1,337.1 436.3,338.2 436.5,339.3 436.8,340.4 437,341.5 437.2,342.5 437.4,343.6 437.6,344.6 437.8,345.7 438,346.7 438.2,347.7 438.4,348.7 438.6,349.6 438.8,350.6 439,351.6 439.3,352.5 439.5,353.4 439.7,354.3 439.9,355.2 440.1,356.1 440.4,357.2 440.6,358.2 440.9,359.2 441.1,360.2 441.4,361.2 441.7,362.2 441.9,363.1 442.2,364 442.4,364.9 442.7,365.8 443,366.8 443.3,367.8 443.6,368.7 444,369.6 444.3,370.5 444.6,371.4 444.9,372.3 445.3,373.3 445.7,374.2 446,375 446.5,375.9 446.9,376.8 447.3,377.6 447.8,378.5 448.2,379.4 448.7,380.2 449.2,381 449.7,381.7 450.3,382.5 450.9,383.2 451.5,384 452.1,384.6 452.8,385.3 453.6,385.9 454.3,386.5 455.1,387 455.9,387.5 456.7,388 457.5,388.4 458.4,388.7 459.2,389 460.1,389.3 461,389.5 461.9,389.7 462.8,389.9 463.7,390.1 464.7,390.2 465.6,390.3 466.6,390.4 467.5,390.5 468.4,390.6 469.4,390.6 470.3,390.7 471.2,390.7 472.2,390.7 473.1,390.8 473.6,390.8" fill="none" stroke="#808080" stroke-width="0.95" stroke-linejoin="round"/>
<polyline points="385.6,390.8 386.5,390.7 387.5,390.7 388.4,390.6 389.4,390.5 390.3,390.3 391.2,390.1 392.1,389.9 393,389.6 393.8,389.3 394.6,388.9 395.4,388.4 396.1,387.8 396.9,387.2 397.6,386.5 398.2,385.8 398.8,385.1 399.3,384.3 399.8,383.5 400.3,382.7 400.7,381.8 401.2,381 401.6,380 401.9,379.2 402.3,378.3 402.7,377.3 403,376.5 403.3,375.6 403.6,374.6 403.9,373.6 404.2,372.6 404.5,371.7 404.8,370.8 405,369.8 405.3,368.8 405.5,367.8 405.8,366.8 406.1,365.7 406.3,364.8 406.5,363.9 406.7,363 406.9,362 407.1,361 407.3,360 407.5,359 407.7,358 407.9,357 408.2,355.9 408.4,354.8 408.6,353.7 408.8,352.6 409,351.4 409.2,350.3 409.4,349.1 409.6,348.2 409.7,347.3 409.9,346.4 410,345.4 410.2,344.5 410.3,343.6 410.5,342.6 410.7,341.6 410.8,340.7 411,339.7 411.1,338.7 411.3,337.7 411.4,336.8 411.6,335.8 411.8,334.7 411.9,333.7 412.1,332.7 412.2,331.7 412.4,330.7 412.5,329.7 412.7,328.6 412.9,327.6 413,326.6 413.2,325.5 413.3,324.5 413.5,323.4 413.6,322.4 413.8,321.4 413.9,320.3 414.1,319.3 414.3,318.2 414.4,317.2 414.6,316.1 414.7,315.1 414.9,314.1 415,313.1 415.2,312 415.4,311 415.5,310 415.7,309 415.8,308 416,307 416.1,306 416.3,305 416.5,304 416.6,303.1 416.8,302.1 416.9,301.2 417.1,300.3 417.2,299.3 417.4,298.4 417.5,297.5 417.7,296.6 417.9,295.5 418.1,294.3 418.3,293.2 418.5,292.1 418.7,291.1 419,290.1 419.2,289.1 419.4,288.1 419.6,287.2 419.8,286.3 420.1,285.2 420.3,284.2 420.6,283.2 420.8,282.3 421.1,281.3 421.5,280.4 421.8,279.5 422.2,278.5 422.7,277.7 423.3,277 424.1,276.6 425,277 425.5,277.7 426,278.6 426.4,279.4 426.7,280.4 427,281.3 427.4,282.4 427.6,283.3 427.9,284.2 428.1,285.3 428.4,286.3 428.6,287.2 428.8,288.2 429,289.1 429.2,290.1 429.4,291.1 429.7,292.1 429.9,293.2 430.1,294.2 430.3,295.3 430.5,296.4 430.7,297.5 430.9,298.7 431.1,299.8 431.3,301 431.5,302.2 431.7,303.1 431.8,304 432,304.9 432.2,305.8 432.3,306.7 432.5,307.6 432.6,308.5 432.8,309.4 432.9,310.3 433.1,311.3 433.3,312.2 433.4,313.1 433.6,314.1 433.7,315 433.9,315.9 434,316.8 434.2,317.8 434.4,318.7 434.5,319.6 434.7,320.5 434.8,321.5 435,322.4 435.1,323.3 435.3,324.2 435.4,325.1 435.6,326 435.8,326.9 435.9,327.8 436.1,328.7 436.2,329.6 436.4,330.8 436.6,331.9 436.9,333.1 437.1,334.3 437.3,335.4 437.5,336.5 437.7,337.6 437.9,338.7 438.1,339.8 438.3,340.9 438.5,342 438.7,343 438.9,344.1 439.2,345.1 439.4,346.1 439.6,347.1 439.8,348.1 440,349.1 440.2,350 440.4,351 440.6,351.9 440.8,352.8 441,353.7 441.2,354.6 441.5,355.7 441.8,356.8 442,357.8 442.3,358.8 442.5,359.8 442.8,360.8 443.1,361.7 443.3,362.7 443.6,363.6 443.8,364.4 444.2,365.5 444.5,366.5 444.8,367.4 445.1,368.4 445.4,369.3 445.7,370.1 446,371 446.4,371.9 446.8,372.9 447.1,373.7 447.5,374.6 447.9,375.5 448.3,376.4 448.8,377.2 449.2,378.1 449.7,378.9 450.2,379.7 450.7,380.6 451.2,381.3 451.8,382.1 452.4,382.8 453,383.6 453.6,384.2 454.3,384.9 455,385.5 455.7,386.1 456.4,386.6 457.2,387.1 458,387.6 458.8,388 459.7,388.4 460.6,388.7 461.4,389 462.3,389.3 463.2,389.5 464.1,389.7 465,389.9 465.9,390.1 466.9,390.2 467.8,390.3 468.7,390.4 469.7,390.5 470.6,390.5 471.6,390.6 472.5,390.6 473.4,390.7 474.4,390.7 475.3,390.8 476.3,390.8 476.4,390.8" fill="none" stroke="#808080" stroke-width="0.95" stroke-linejoin="round"/>
<polyline points="384.4,390.8 385.3,390.7 386.2,390.7 387.2,390.6 388.1,390.5 389.1,390.4 389.9,390.2 390.8,390 391.7,389.7 392.6,389.4 393.4,389 394.3,388.5 395.1,388 395.8,387.4 396.5,386.8 397.1,386.1 397.7,385.4 398.3,384.6 398.8,383.9 399.3,383 399.8,382.2 400.2,381.4 400.6,380.5 401.1,379.6 401.4,378.7 401.8,377.8 402.2,376.9 402.5,376 402.8,375.1 403.1,374.2 403.4,373.2 403.7,372.2 404,371.3 404.2,370.4 404.5,369.5 404.8,368.5 405,367.5 405.3,366.4 405.5,365.4 405.8,364.5 406,363.6 406.2,362.7 406.4,361.7 406.6,360.8 406.8,359.8 407,358.8 407.2,357.8 407.4,356.8 407.6,355.7 407.8,354.6 408,353.6 408.3,352.4 408.5,351.3 408.7,350.2 408.9,349 409.1,347.8 409.2,346.9 409.4,346 409.6,345.1 409.7,344.2 409.9,343.2 410,342.3 410.2,341.4 410.3,340.4 410.5,339.4 410.7,338.5 410.8,337.5 411,336.5 411.1,335.5 411.3,334.5 411.4,333.5 411.6,332.5 411.8,331.5 411.9,330.4 412.1,329.4 412.2,328.4 412.4,327.3 412.5,326.3 412.7,325.2 412.9,324.2 413,323.2 413.2,322.1 413.3,321 413.5,320 413.6,318.9 413.8,317.9 413.9,316.8 414.1,315.8 414.3,314.7 414.4,313.7 414.6,312.6 414.7,311.6 414.9,310.5 415,309.5 415.2,308.4 415.4,307.4 415.5,306.4 415.7,305.3 415.8,304.3 416,303.3 416.1,302.3 416.3,301.3 416.5,300.3 416.6,299.3 416.8,298.4 416.9,297.4 417.1,296.4 417.2,295.5 417.4,294.5 417.5,293.6 417.7,292.7 417.9,291.8 418,290.9 418.2,289.8 418.4,288.6 418.6,287.5 418.9,286.4 419.1,285.3 419.3,284.3 419.5,283.3 419.7,282.3 419.9,281.4 420.1,280.5 420.4,279.4 420.6,278.4 420.9,277.4 421.1,276.5 421.5,275.5 421.8,274.5 422.1,273.6 422.5,272.7 422.9,271.9 423.4,271.1 424.1,270.5 425,270.5 425.7,271.1 426.2,271.9 426.6,272.7 427,273.6 427.3,274.5 427.6,275.5 427.9,276.3 428.1,277.3 428.4,278.2 428.7,279.3 428.9,280.4 429.1,281.3 429.3,282.2 429.6,283.2 429.8,284.1 430,285.2 430.2,286.2 430.4,287.2 430.6,288.3 430.8,289.4 431,290.5 431.2,291.7 431.4,292.8 431.6,294 431.8,295.2 432,296.1 432.2,297 432.3,297.9 432.5,298.8 432.6,299.7 432.8,300.6 432.9,301.6 433.1,302.5 433.3,303.4 433.4,304.4 433.6,305.3 433.7,306.3 433.9,307.2 434,308.2 434.2,309.1 434.4,310.1 434.5,311 434.7,311.9 434.8,312.9 435,313.8 435.1,314.8 435.3,315.7 435.4,316.7 435.6,317.6 435.8,318.5 435.9,319.5 436.1,320.4 436.2,321.3 436.4,322.3 436.5,323.2 436.7,324.1 436.9,325 437,325.9 437.2,326.8 437.3,327.7 437.5,328.6 437.6,329.5 437.8,330.7 438.1,331.8 438.3,333 438.5,334.1 438.7,335.3 438.9,336.4 439.1,337.5 439.3,338.6 439.5,339.7 439.7,340.8 439.9,341.8 440.1,342.9 440.4,343.9 440.6,344.9 440.8,345.9 441,346.9 441.2,347.9 441.4,348.8 441.6,349.8 441.8,350.7 442,351.6 442.2,352.5 442.4,353.4 442.7,354.5 443,355.6 443.2,356.6 443.5,357.6 443.7,358.6 444,359.6 444.3,360.6 444.5,361.5 444.8,362.4 445.1,363.3 445.3,364.2 445.6,365.2 445.9,366.2 446.3,367.1 446.6,368 446.9,368.9 447.2,369.8 447.6,370.8 447.9,371.7 448.3,372.6 448.7,373.5 449,374.3 449.4,375.2 449.9,376.1 450.3,376.9 450.7,377.8 451.2,378.6 451.7,379.4 452.2,380.2 452.7,381 453.3,381.8 453.9,382.5 454.5,383.2 455.1,383.9 455.8,384.6 456.5,385.2 457.2,385.8 457.9,386.4 458.7,386.9 459.5,387.3 460.3,387.8 461.2,388.2 462,388.5 462.9,388.8 463.8,389.1 464.7,389.4 465.6,389.6 466.4,389.8 467.3,389.9 468.3,390.1 469.2,390.2 470.2,390.3 471.1,390.4 472,390.5 473,390.5 473.9,390.6 474.8,390.6 475.8,390.7 476.7,390.7 477.7,390.7 478.6,390.8 479.1,390.8" fill="none" stroke="#808080" stroke-width="0.95" stroke-linejoin="round"/>
<polyline points="383.1,390.8 384,390.7 384.9,390.7 385.9,390.6 386.8,390.5 387.7,390.4 388.6,390.2 389.5,390 390.4,389.8 391.3,389.5 392.1,389.1 393,388.7 393.7,388.2 394.5,387.7 395.3,387.1 395.9,386.4 396.6,385.7 397.1,385 397.7,384.3 398.2,383.5 398.8,382.6 399.2,381.8 399.6,381 400.1,380.2 400.5,379.2 400.8,378.4 401.2,377.5 401.6,376.6 401.9,375.7 402.2,374.8 402.5,373.9 402.8,372.9 403.1,371.9 403.4,371.1 403.7,370.2 403.9,369.2 404.2,368.3 404.4,367.3 404.7,366.3 405,365.3 405.2,364.2 405.4,363.3 405.6,362.4 405.9,361.5 406.1,360.5 406.3,359.6 406.5,358.6 406.7,357.6 406.9,356.6 407.1,355.6 407.3,354.5 407.5,353.5 407.7,352.4 407.9,351.3 408.2,350.1 408.4,349 408.6,347.8 408.8,346.7 408.9,345.8 409.1,344.9 409.2,344 409.4,343 409.6,342.1 409.7,341.2 409.9,340.2 410,339.3 410.2,338.3 410.3,337.3 410.5,336.4 410.7,335.4 410.8,334.4 411,333.4 411.1,332.4 411.3,331.4 411.4,330.4 411.6,329.4 411.8,328.3 411.9,327.3 412.1,326.3 412.2,325.2 412.4,324.2 412.5,323.1 412.7,322.1 412.9,321 413,320 413.2,318.9 413.3,317.9 413.5,316.8 413.6,315.8 413.8,314.7 413.9,313.6 414.1,312.6 414.3,311.5 414.4,310.5 414.6,309.4 414.7,308.4 414.9,307.3 415,306.3 415.2,305.2 415.4,304.2 415.5,303.1 415.7,302.1 415.8,301.1 416,300.1 416.1,299 416.3,298 416.5,297 416.6,296 416.8,295 416.9,294.1 417.1,293.1 417.2,292.1 417.4,291.2 417.5,290.2 417.7,289.3 417.9,288.4 418,287.5 418.2,286.6 418.4,285.4 418.6,284.3 418.8,283.1 419,282 419.2,281 419.4,279.9 419.6,278.9 419.8,277.9 420.1,276.9 420.3,276 420.5,275.1 420.7,274 421,273 421.3,272.1 421.5,271.1 421.8,270.1 422.1,269.2 422.5,268.3 422.8,267.5 423.2,266.6 423.8,265.8 424.4,265.1 425.3,264.9 426.1,265.4 426.6,266.2 427,267 427.4,267.8 427.7,268.8 428,269.7 428.4,270.8 428.6,271.7 428.9,272.7 429.1,273.7 429.4,274.8 429.6,275.7 429.8,276.6 430,277.6 430.2,278.5 430.4,279.5 430.6,280.6 430.9,281.6 431.1,282.7 431.3,283.8 431.5,284.9 431.7,286.1 431.9,287.2 432.1,288.4 432.3,289.3 432.4,290.2 432.6,291.1 432.7,292 432.9,292.9 433,293.8 433.2,294.7 433.4,295.7 433.5,296.6 433.7,297.6 433.8,298.5 434,299.4 434.1,300.4 434.3,301.3 434.5,302.3 434.6,303.3 434.8,304.2 434.9,305.2 435.1,306.1 435.2,307.1 435.4,308.1 435.6,309 435.7,310 435.9,310.9 436,311.9 436.2,312.8 436.3,313.8 436.5,314.7 436.6,315.7 436.8,316.6 437,317.6 437.1,318.5 437.3,319.4 437.4,320.4 437.6,321.3 437.7,322.2 437.9,323.1 438.1,324 438.2,325 438.4,325.9 438.5,326.8 438.7,327.6 438.9,328.8 439.1,330 439.3,331.2 439.5,332.3 439.7,333.4 439.9,334.6 440.1,335.7 440.4,336.8 440.6,337.9 440.8,338.9 441,340 441.2,341.1 441.4,342.1 441.6,343.1 441.8,344.1 442,345.1 442.2,346.1 442.4,347.1 442.6,348 442.9,349 443.1,349.9 443.3,350.8 443.5,351.7 443.7,352.6 444,353.6 444.2,354.7 444.5,355.7 444.7,356.8 445,357.8 445.3,358.7 445.5,359.7 445.8,360.6 446,361.5 446.3,362.4 446.6,363.3 446.9,364.3 447.2,365.3 447.5,366.2 447.8,367.1 448.1,368 448.4,368.9 448.8,369.9 449.2,370.8 449.5,371.7 449.9,372.6 450.3,373.4 450.7,374.4 451.1,375.2 451.5,376.1 451.9,376.9 452.4,377.7 452.9,378.5 453.4,379.4 453.9,380.2 454.4,380.9 455,381.7 455.6,382.4 456.2,383.1 456.8,383.8 457.5,384.5 458.2,385.1 458.9,385.7 459.7,386.2 460.4,386.7 461.2,387.2 462.1,387.6 462.9,388 463.7,388.4 464.6,388.7 465.5,389 466.4,389.2 467.3,389.5 468.2,389.6 469.1,389.8 470,390 470.9,390.1 471.9,390.2 472.8,390.3 473.8,390.4 474.7,390.5 475.6,390.5 476.6,390.6 477.5,390.6 478.5,390.7 479.4,390.7 480.3,390.7 481.3,390.8 481.9,390.8" fill="none" stroke="#808080" stroke-width="0.95" stroke-linejoin="round"/>
<polyline points="381.7,390.8 382.6,390.7 383.6,390.7 384.5,390.6 385.5,390.5 386.4,390.4 387.3,390.3 388.2,390.1 389.1,389.9 390,389.6 390.9,389.2 391.7,388.9 392.5,388.4 393.3,387.9 394.1,387.3 394.7,386.7 395.4,386.1 396,385.4 396.6,384.7 397.2,383.9 397.7,383.1 398.2,382.3 398.7,381.5 399.1,380.6 399.5,379.7 400,378.8 400.3,377.9 400.7,377 401.1,376.1 401.4,375.1 401.7,374.2 402,373.3 402.4,372.4 402.7,371.4 402.9,370.5 403.2,369.6 403.5,368.7 403.7,367.7 404,366.8 404.2,365.8 404.5,364.7 404.8,363.7 405,362.6 405.2,361.7 405.4,360.8 405.6,359.8 405.9,358.9 406.1,357.9 406.3,356.9 406.5,355.9 406.7,354.9 406.9,353.9 407.1,352.8 407.3,351.7 407.5,350.7 407.7,349.5 407.9,348.4 408.2,347.3 408.4,346.1 408.6,344.9 408.7,344 408.9,343.1 409,342.2 409.2,341.3 409.4,340.4 409.5,339.4 409.7,338.5 409.8,337.5 410,336.6 410.1,335.6 410.3,334.6 410.4,333.7 410.6,332.7 410.8,331.7 410.9,330.7 411.1,329.7 411.2,328.7 411.4,327.6 411.5,326.6 411.7,325.6 411.9,324.6 412,323.5 412.2,322.5 412.3,321.4 412.5,320.4 412.6,319.3 412.8,318.3 413,317.2 413.1,316.2 413.3,315.1 413.4,314 413.6,313 413.7,311.9 413.9,310.8 414.1,309.8 414.2,308.7 414.4,307.7 414.5,306.6 414.7,305.5 414.8,304.5 415,303.4 415.1,302.4 415.3,301.3 415.5,300.3 415.6,299.2 415.8,298.2 415.9,297.2 416.1,296.1 416.2,295.1 416.4,294.1 416.6,293.1 416.7,292.1 416.9,291.1 417,290.1 417.2,289.1 417.3,288.2 417.5,287.2 417.7,286.3 417.8,285.3 418,284.4 418.1,283.5 418.3,282.6 418.4,281.7 418.6,280.5 418.9,279.4 419.1,278.2 419.3,277.1 419.5,276 419.7,275 419.9,274 420.1,273 420.3,272 420.5,271.1 420.7,270.2 421,269.1 421.3,268.1 421.5,267.1 421.8,266.1 422,265.3 422.3,264.3 422.7,263.4 423,262.5 423.4,261.6 423.9,260.7 424.5,260 425.3,259.4 426.2,259.6 426.8,260.3 427.3,261 427.7,261.9 428,262.8 428.4,263.7 428.7,264.7 428.9,265.6 429.2,266.5 429.4,267.5 429.7,268.5 430,269.6 430.2,270.5 430.4,271.5 430.6,272.4 430.8,273.4 431,274.5 431.2,275.5 431.4,276.6 431.6,277.6 431.8,278.8 432.1,279.9 432.3,281 432.5,282.2 432.7,283.4 432.8,284.3 433,285.2 433.2,286.1 433.3,287 433.5,287.9 433.6,288.8 433.8,289.8 433.9,290.7 434.1,291.7 434.2,292.6 434.4,293.6 434.6,294.5 434.7,295.5 434.9,296.4 435,297.4 435.2,298.4 435.3,299.3 435.5,300.3 435.7,301.3 435.8,302.2 436,303.2 436.1,304.2 436.3,305.1 436.4,306.1 436.6,307.1 436.8,308.1 436.9,309 437.1,310 437.2,310.9 437.4,311.9 437.5,312.9 437.7,313.8 437.8,314.8 438,315.7 438.2,316.7 438.3,317.6 438.5,318.5 438.6,319.5 438.8,320.4 438.9,321.3 439.1,322.2 439.3,323.1 439.4,324 439.6,324.9 439.7,325.8 439.9,326.7 440.1,327.9 440.3,329.1 440.5,330.2 440.7,331.4 440.9,332.5 441.1,333.6 441.3,334.7 441.6,335.8 441.8,336.9 442,338 442.2,339 442.4,340.1 442.6,341.1 442.8,342.1 443,343.1 443.2,344.1 443.4,345.1 443.6,346 443.8,347 444.1,347.9 444.3,348.8 444.5,349.8 444.7,350.6 444.9,351.5 445.2,352.6 445.4,353.7 445.7,354.7 445.9,355.7 446.2,356.7 446.5,357.7 446.7,358.6 447,359.6 447.2,360.5 447.5,361.4 447.8,362.2 448.1,363.2 448.4,364.2 448.7,365.2 449,366.1 449.3,367 449.6,367.9 450,368.7 450.3,369.7 450.7,370.6 451.1,371.5 451.4,372.4 451.8,373.2 452.2,374.1 452.6,375 453,375.8 453.5,376.7 454,377.5 454.4,378.3 455,379.1 455.5,379.9 456,380.7 456.6,381.4 457.2,382.1 457.8,382.8 458.4,383.5 459.1,384.2 459.8,384.8 460.5,385.4 461.2,385.9 462,386.5 462.8,386.9 463.6,387.4 464.5,387.8 465.3,388.2 466.2,388.5 467.1,388.8 468,389.1 468.8,389.3 469.7,389.5 470.6,389.7 471.5,389.8 472.4,390 473.4,390.1 474.3,390.2 475.3,390.3 476.2,390.4 477.1,390.5 478.1,390.5 479,390.6 480,390.6 480.9,390.7 481.8,390.7 482.8,390.7 483.7,390.8 484.7,390.8 484.8,390.8" fill="none" stroke="#808080" stroke-width="0.95" stroke-linejoin="round"/>
<polyline points="380.4,390.8 381.3,390.7 382.3,390.7 383.2,390.6 384.1,390.5 385.1,390.4 386,390.3 386.9,390.1 387.8,389.9 388.7,389.7 389.6,389.4 390.4,389 391.2,388.6 392,388.1 392.8,387.6 393.5,387 394.2,386.4 394.9,385.7 395.5,385 396.1,384.3 396.7,383.4 397.2,382.6 397.7,381.9 398.1,381 398.6,380.2 399,379.4 399.4,378.5 399.8,377.6 400.1,376.7 400.5,375.8 400.8,374.8 401.2,374 401.5,373 401.8,372.1 402.1,371.1 402.4,370.1 402.7,369.2 402.9,368.3 403.2,367.4 403.5,366.4 403.7,365.4 404,364.4 404.2,363.4 404.5,362.3 404.7,361.4 404.9,360.5 405.1,359.6 405.3,358.7 405.5,357.8 405.8,356.8 406,355.8 406.2,354.8 406.4,353.8 406.6,352.7 406.8,351.7 407,350.6 407.2,349.5 407.4,348.4 407.6,347.3 407.8,346.2 408,345 408.3,343.8 408.4,343 408.6,342.1 408.7,341.1 408.9,340.2 409,339.3 409.2,338.4 409.4,337.4 409.5,336.5 409.7,335.5 409.8,334.6 410,333.6 410.1,332.6 410.3,331.7 410.4,330.7 410.6,329.7 410.8,328.7 410.9,327.7 411.1,326.6 411.2,325.6 411.4,324.6 411.5,323.6 411.7,322.5 411.9,321.5 412,320.5 412.2,319.4 412.3,318.4 412.5,317.3 412.6,316.3 412.8,315.2 413,314.1 413.1,313.1 413.3,312 413.4,311 413.6,309.9 413.7,308.8 413.9,307.7 414.1,306.7 414.2,305.6 414.4,304.5 414.5,303.5 414.7,302.4 414.8,301.4 415,300.3 415.1,299.2 415.3,298.2 415.5,297.1 415.6,296.1 415.8,295 415.9,294 416.1,293 416.2,291.9 416.4,290.9 416.6,289.9 416.7,288.9 416.9,287.9 417,286.9 417.2,285.9 417.3,284.9 417.5,284 417.7,283 417.8,282.1 418,281.1 418.1,280.2 418.3,279.3 418.4,278.3 418.6,277.4 418.7,276.6 419,275.4 419.2,274.2 419.4,273.1 419.6,272 419.8,271 420,269.9 420.2,268.9 420.4,267.9 420.6,267 420.8,266 421,265.1 421.3,264 421.6,263 421.8,262 422.1,261.1 422.3,260.2 422.7,259.2 423,258.3 423.3,257.4 423.7,256.5 424.1,255.7 424.6,254.9 425.3,254.2 426.2,254 427,254.5 427.6,255.3 428,256.1 428.4,257 428.7,258 429,258.9 429.3,259.9 429.6,260.8 429.9,261.8 430.1,262.8 430.4,263.9 430.6,264.8 430.8,265.7 431,266.7 431.2,267.7 431.4,268.7 431.6,269.7 431.8,270.8 432.1,271.8 432.3,272.9 432.5,274.1 432.7,275.2 432.9,276.4 433.1,277.5 433.3,278.4 433.4,279.3 433.6,280.2 433.7,281.1 433.9,282.1 434,283 434.2,283.9 434.4,284.9 434.5,285.8 434.7,286.8 434.8,287.7 435,288.7 435.1,289.6 435.3,290.6 435.4,291.6 435.6,292.6 435.8,293.5 435.9,294.5 436.1,295.5 436.2,296.5 436.4,297.4 436.5,298.4 436.7,299.4 436.9,300.4 437,301.4 437.2,302.3 437.3,303.3 437.5,304.3 437.6,305.3 437.8,306.2 438,307.2 438.1,308.2 438.3,309.2 438.4,310.1 438.6,311.1 438.7,312 438.9,313 439,313.9 439.2,314.9 439.4,315.8 439.5,316.8 439.7,317.7 439.8,318.6 440,319.6 440.1,320.5 440.3,321.4 440.5,322.3 440.6,323.2 440.8,324.1 440.9,325 441.1,326.2 441.3,327.3 441.6,328.5 441.8,329.6 442,330.8 442.2,331.9 442.4,333 442.6,334.1 442.8,335.2 443,336.3 443.2,337.3 443.4,338.4 443.6,339.4 443.8,340.4 444.1,341.4 444.3,342.4 444.5,343.4 444.7,344.4 444.9,345.3 445.1,346.3 445.3,347.2 445.5,348.1 445.7,349 445.9,349.9 446.2,351 446.5,352 446.7,353.1 447,354.1 447.2,355.1 447.5,356.1 447.8,357.1 448,358 448.3,358.9 448.5,359.8 448.8,360.7 449.1,361.7 449.4,362.7 449.7,363.7 450.1,364.7 450.4,365.6 450.7,366.5 451,367.3 451.4,368.3 451.7,369.3 452.1,370.2 452.5,371.1 452.8,371.9 453.2,372.8 453.7,373.7 454.1,374.6 454.5,375.4 455,376.3 455.4,377.1 455.9,377.9 456.4,378.7 456.9,379.5 457.5,380.3 458,381 458.6,381.7 459.2,382.5 459.9,383.1 460.6,383.8 461.2,384.4 462,385 462.7,385.6 463.5,386.1 464.3,386.6 465,387.1 465.9,387.5 466.7,387.9 467.5,388.2 468.4,388.5 469.3,388.8 470.2,389.1 471.1,389.3 472,389.5 472.9,389.7 473.8,389.8 474.7,390 475.6,390.1 476.6,390.2 477.5,390.3 478.5,390.4 479.4,390.5 480.3,390.5 481.3,390.6 482.2,390.6 483.1,390.7 484.1,390.7 485,390.7 486,390.7 486.9,390.8 487.6,390.8" fill="none" stroke="#808080" stroke-width="0.95" stroke-linejoin="round"/>
<polyline points="379,390.8 380,390.7 380.9,390.7 381.9,390.6 382.8,390.5 383.7,390.4 384.7,390.3 385.6,390.2 386.4,390 387.3,389.7 388.2,389.5 389.1,389.1 389.9,388.8 390.8,388.3 391.6,387.8 392.3,387.3 393,386.7 393.7,386 394.3,385.4 394.9,384.6 395.5,383.9 396,383.2 396.6,382.4 397,381.6 397.5,380.7 398,379.9 398.4,379 398.8,378.1 399.2,377.3 399.5,376.4 399.9,375.5 400.3,374.5 400.6,373.7 400.9,372.8 401.2,371.8 401.5,370.9 401.8,369.9 402.2,368.8 402.4,367.9 402.7,367 402.9,366.1 403.2,365.1 403.5,364.1 403.7,363.1 404,362.1 404.2,361 404.4,360.1 404.7,359.2 404.9,358.3 405.1,357.4 405.3,356.4 405.5,355.4 405.7,354.5 405.9,353.5 406.1,352.4 406.3,351.4 406.5,350.4 406.7,349.3 407,348.2 407.2,347.1 407.4,346 407.6,344.9 407.8,343.7 408,342.5 408.2,341.4 408.4,340.5 408.5,339.6 408.7,338.7 408.8,337.7 409,336.8 409.1,335.9 409.3,334.9 409.5,334 409.6,333 409.8,332.1 409.9,331.1 410.1,330.1 410.2,329.2 410.4,328.2 410.6,327.2 410.7,326.2 410.9,325.2 411,324.2 411.2,323.1 411.3,322.1 411.5,321.1 411.6,320.1 411.8,319 412,318 412.1,316.9 412.3,315.9 412.4,314.9 412.6,313.8 412.7,312.7 412.9,311.7 413.1,310.6 413.2,309.6 413.4,308.5 413.5,307.4 413.7,306.4 413.8,305.3 414,304.3 414.2,303.2 414.3,302.1 414.5,301.1 414.6,300 414.8,298.9 414.9,297.9 415.1,296.8 415.3,295.8 415.4,294.7 415.6,293.7 415.7,292.6 415.9,291.6 416,290.6 416.2,289.5 416.3,288.5 416.5,287.5 416.7,286.5 416.8,285.5 417,284.5 417.1,283.5 417.3,282.5 417.4,281.5 417.6,280.6 417.8,279.6 417.9,278.6 418.1,277.7 418.2,276.8 418.4,275.8 418.5,274.9 418.7,274 418.9,273.1 419.1,272 419.3,270.8 419.5,269.7 419.7,268.6 419.9,267.5 420.1,266.5 420.3,265.4 420.5,264.4 420.7,263.4 420.9,262.5 421.1,261.6 421.4,260.7 421.6,259.6 421.9,258.6 422.1,257.6 422.4,256.6 422.7,255.8 423,254.8 423.3,253.9 423.7,252.9 424,252.1 424.4,251.2 425,250.4 425.6,249.7 426.4,249.3 427.3,249.6 427.9,250.3 428.4,251.2 428.8,252.1 429.1,253 429.4,254 429.8,255 430,255.8 430.3,256.8 430.5,257.8 430.8,258.8 431,259.7 431.2,260.6 431.4,261.6 431.6,262.5 431.8,263.5 432.1,264.5 432.3,265.6 432.5,266.6 432.7,267.7 432.9,268.8 433.1,269.9 433.3,271.1 433.5,272.2 433.7,273.4 433.9,274.3 434,275.2 434.2,276.1 434.4,277 434.5,278 434.7,278.9 434.8,279.8 435,280.8 435.1,281.7 435.3,282.7 435.4,283.6 435.6,284.6 435.8,285.6 435.9,286.5 436.1,287.5 436.2,288.5 436.4,289.4 436.5,290.4 436.7,291.4 436.9,292.4 437,293.4 437.2,294.4 437.3,295.3 437.5,296.3 437.6,297.3 437.8,298.3 438,299.3 438.1,300.3 438.3,301.2 438.4,302.2 438.6,303.2 438.7,304.2 438.9,305.1 439,306.1 439.2,307.1 439.4,308 439.5,309 439.7,310 439.8,310.9 440,311.9 440.1,312.8 440.3,313.8 440.5,314.7 440.6,315.6 440.8,316.6 440.9,317.5 441.1,318.4 441.2,319.3 441.4,320.2 441.6,321.1 441.7,322 441.9,322.9 442.1,324.1 442.3,325.3 442.5,326.4 442.7,327.6 442.9,328.7 443.1,329.8 443.3,330.9 443.5,332 443.7,333.1 444,334.2 444.2,335.3 444.4,336.3 444.6,337.4 444.8,338.4 445,339.4 445.2,340.4 445.4,341.4 445.6,342.4 445.8,343.3 446,344.3 446.3,345.2 446.5,346.1 446.7,347 446.9,347.9 447.1,348.8 447.3,349.9 447.6,350.9 447.9,352 448.1,353 448.4,354 448.7,355 448.9,355.9 449.2,356.9 449.4,357.8 449.7,358.7 450,359.6 450.2,360.5 450.5,361.5 450.8,362.4 451.2,363.4 451.5,364.3 451.8,365.2 452.1,366.1 452.4,367 452.8,367.9 453.1,368.9 453.5,369.8 453.9,370.6 454.2,371.5 454.7,372.4 455.1,373.3 455.5,374.1 455.9,374.9 456.4,375.8 456.8,376.6 457.3,377.4 457.8,378.3 458.4,379 458.9,379.8 459.5,380.6 460,381.3 460.7,382 461.3,382.7 462,383.4 462.6,384 463.4,384.6 464.1,385.2 464.9,385.8 465.7,386.3 466.4,386.7 467.3,387.2 468.1,387.6 469,388 469.8,388.3 470.7,388.6 471.6,388.9 472.5,389.1 473.4,389.3 474.3,389.5 475.2,389.7 476.1,389.8 477,390 478,390.1 478.9,390.2 479.9,390.3 480.8,390.4 481.7,390.4 482.7,390.5 483.6,390.6 484.6,390.6 485.5,390.6 486.4,390.7 487.4,390.7 488.3,390.7 489.3,390.8 490.2,390.8 490.5,390.8" fill="none" stroke="#808080" stroke-width="0.95" stroke-linejoin="round"/>
<polyline points="377.6,390.8 378.5,390.7 379.4,390.7 380.4,390.6 381.3,390.6 382.3,390.5 383.2,390.3 384.1,390.2 385,390 385.9,389.8 386.8,389.6 387.7,389.3 388.5,388.9 389.4,388.5 390.2,388 391,387.5 391.7,387 392.4,386.4 393.1,385.7 393.7,385 394.4,384.3 394.9,383.5 395.5,382.8 396,382 396.5,381.2 396.9,380.4 397.4,379.5 397.8,378.6 398.2,377.7 398.6,376.9 399,376 399.3,375.1 399.7,374.2 400,373.3 400.3,372.5 400.6,371.6 401,370.6 401.3,369.6 401.6,368.6 401.8,367.7 402.1,366.9 402.4,365.9 402.6,365 402.9,364 403.1,363 403.4,362 403.7,361 403.9,359.9 404.2,358.8 404.4,357.9 404.6,357 404.8,356.1 405,355.1 405.2,354.2 405.4,353.2 405.6,352.2 405.9,351.2 406.1,350.1 406.3,349.1 406.5,348 406.7,347 406.9,345.9 407.1,344.8 407.3,343.7 407.5,342.5 407.7,341.4 407.9,340.2 408.2,339 408.3,338.1 408.5,337.2 408.6,336.3 408.8,335.4 408.9,334.5 409.1,333.6 409.2,332.6 409.4,331.7 409.6,330.7 409.7,329.8 409.9,328.8 410,327.9 410.2,326.9 410.3,325.9 410.5,324.9 410.7,323.9 410.8,322.9 411,321.9 411.1,320.9 411.3,319.9 411.4,318.9 411.6,317.9 411.8,316.8 411.9,315.8 412.1,314.8 412.2,313.7 412.4,312.7 412.5,311.7 412.7,310.6 412.9,309.6 413,308.5 413.2,307.5 413.3,306.4 413.5,305.4 413.6,304.3 413.8,303.3 413.9,302.2 414.1,301.2 414.3,300.1 414.4,299.1 414.6,298 414.7,297 414.9,295.9 415,294.9 415.2,293.8 415.4,292.8 415.5,291.8 415.7,290.7 415.8,289.7 416,288.7 416.1,287.7 416.3,286.6 416.5,285.6 416.6,284.6 416.8,283.6 416.9,282.6 417.1,281.6 417.2,280.7 417.4,279.7 417.5,278.7 417.7,277.8 417.9,276.8 418,275.9 418.2,274.9 418.3,274 418.5,273.1 418.6,272.2 418.8,271.3 419,270.1 419.2,268.9 419.4,267.8 419.6,266.7 419.8,265.6 420.1,264.5 420.3,263.5 420.5,262.4 420.7,261.4 420.9,260.4 421.1,259.5 421.3,258.6 421.5,257.7 421.8,256.6 422,255.5 422.3,254.5 422.6,253.6 422.8,252.7 423.1,251.7 423.4,250.7 423.8,249.9 424.1,249 424.5,248 425,247.2 425.5,246.4 426.2,245.8 427.1,245.5 427.9,245.9 428.5,246.7 428.9,247.5 429.3,248.5 429.7,249.4 430,250.4 430.3,251.4 430.6,252.3 430.9,253.2 431.1,254.2 431.4,255.2 431.6,256.3 431.8,257.3 432.1,258.2 432.3,259.2 432.5,260.1 432.7,261.2 432.9,262.2 433.1,263.3 433.3,264.3 433.5,265.4 433.7,266.6 433.9,267.7 434.1,268.8 434.4,270 434.5,270.9 434.7,271.8 434.8,272.7 435,273.6 435.1,274.5 435.3,275.5 435.4,276.4 435.6,277.3 435.8,278.3 435.9,279.2 436.1,280.2 436.2,281.1 436.4,282.1 436.5,283 436.7,284 436.9,285 437,285.9 437.2,286.9 437.3,287.9 437.5,288.9 437.6,289.9 437.8,290.8 438,291.8 438.1,292.8 438.3,293.8 438.4,294.8 438.6,295.7 438.7,296.7 438.9,297.7 439,298.7 439.2,299.6 439.4,300.6 439.5,301.6 439.7,302.6 439.8,303.5 440,304.5 440.1,305.4 440.3,306.4 440.5,307.4 440.6,308.3 440.8,309.3 440.9,310.2 441.1,311.1 441.2,312.1 441.4,313 441.6,313.9 441.7,314.9 441.9,315.8 442,316.7 442.2,317.6 442.3,318.5 442.5,319.4 442.6,320.3 442.9,321.5 443.1,322.6 443.3,323.8 443.5,324.9 443.7,326.1 443.9,327.2 444.1,328.3 444.3,329.4 444.5,330.5 444.7,331.6 444.9,332.7 445.2,333.7 445.4,334.8 445.6,335.8 445.8,336.8 446,337.8 446.2,338.8 446.4,339.8 446.6,340.8 446.8,341.7 447,342.7 447.2,343.6 447.5,344.5 447.7,345.4 447.9,346.3 448.1,347.2 448.3,348.3 448.6,349.4 448.9,350.4 449.1,351.4 449.4,352.4 449.6,353.4 449.9,354.4 450.2,355.3 450.4,356.2 450.7,357.2 450.9,358 451.2,358.9 451.5,359.9 451.8,360.9 452.1,361.9 452.5,362.8 452.8,363.8 453.1,364.6 453.4,365.5 453.7,366.4 454.1,367.3 454.4,368.2 454.8,369.1 455.2,370 455.5,370.8 456,371.8 456.4,372.6 456.8,373.5 457.2,374.3 457.7,375.2 458.1,376 458.6,376.8 459.1,377.6 459.7,378.4 460.2,379.2 460.8,380 461.3,380.7 462,381.4 462.6,382.1 463.2,382.8 463.9,383.4 464.6,384.1 465.3,384.7 466,385.2 466.8,385.8 467.6,386.2 468.4,386.7 469.2,387.1 470,387.5 470.9,387.9 471.8,388.2 472.7,388.5 473.5,388.8 474.4,389 475.3,389.2 476.2,389.4 477.1,389.6 478,389.8 479,389.9 479.9,390 480.9,390.1 481.8,390.2 482.7,390.3 483.7,390.4 484.6,390.5 485.5,390.5 486.5,390.6 487.4,390.6 488.4,390.6 489.3,390.7 490.2,390.7 491.2,390.7 492.1,390.8 493.1,390.8 493.5,390.8" fill="none" stroke="#808080" stroke-width="0.95" stroke-linejoin="round"/>
<polyline points="381.4,390.8 382.3,390.7 383.3,390.7 384.2,390.6 385.1,390.5 386.1,390.4 387,390.3 387.9,390.1 388.8,389.9 389.7,389.7 390.6,389.4 391.4,389 392.2,388.6 393,388.1 393.8,387.6 394.5,387 395.2,386.4 395.8,385.7 396.5,385 397,384.3 397.6,383.5 398.1,382.7 398.6,381.9 399,381.1 399.4,380.3 399.9,379.4 400.3,378.5 400.6,377.6 401,376.8 401.4,375.8 401.7,375 402,374.1 402.3,373.2 402.6,372.2 402.9,371.2 403.2,370.2 403.5,369.3 403.8,368.4 404,367.4 404.3,366.4 404.6,365.4 404.8,364.4 405.1,363.3 405.3,362.2 405.5,361.3 405.8,360.4 406,359.5 406.2,358.5 406.4,357.6 406.6,356.6 406.8,355.5 407,354.5 407.2,353.5 407.4,352.4 407.6,351.3 407.8,350.2 408,349.1 408.3,347.9 408.5,346.7 408.6,345.8 408.8,344.9 408.9,344 409.1,343.1 409.2,342.2 409.4,341.3 409.6,340.3 409.7,339.3 409.9,338.4 410,337.4 410.2,336.4 410.3,335.4 410.5,334.4 410.7,333.4 410.8,332.4 411,331.4 411.1,330.3 411.3,329.3 411.4,328.2 411.6,327.2 411.8,326.1 411.9,325 412.1,323.9 412.2,322.8 412.4,321.7 412.5,320.6 412.7,319.5 412.9,318.4 413,317.3 413.2,316.2 413.3,315 413.5,313.9 413.6,312.8 413.8,311.6 413.9,310.5 414.1,309.3 414.3,308.2 414.4,307 414.6,305.9 414.7,304.7 414.9,303.6 415,302.4 415.2,301.2 415.4,300.1 415.5,298.9 415.7,297.7 415.8,296.6 416,295.4 416.1,294.3 416.3,293.1 416.5,292 416.6,290.8 416.8,289.7 416.9,288.5 417.1,287.4 417.2,286.2 417.4,285.1 417.5,284 417.7,282.9 417.9,281.8 418,280.6 418.2,279.5 418.3,278.5 418.5,277.4 418.6,276.3 418.8,275.2 419,274.2 419.1,273.1 419.3,272.1 419.4,271 419.6,270 419.7,269 419.9,268 420.1,267 420.2,266.1 420.4,265.1 420.5,264.2 420.7,263.2 420.8,262.3 421,261.4 421.2,260.3 421.4,259.1 421.6,258 421.8,256.9 422,255.8 422.2,254.8 422.5,253.8 422.7,252.8 422.9,251.9 423.1,251 423.3,249.9 423.6,248.9 423.9,248 424.1,247.1 424.4,246.1 424.7,245.1 425.1,244.2 425.5,243.4 425.9,242.5 426.5,241.7 427.3,241.2 428.1,241.3 428.8,242 429.3,242.8 429.7,243.7 430.1,244.6 430.4,245.4 430.7,246.4 431,247.3 431.2,248.2 431.5,249.2 431.7,250.2 432,251.3 432.2,252.2 432.4,253.1 432.6,254.1 432.8,255.1 433,256.1 433.3,257.1 433.5,258.2 433.7,259.3 433.9,260.4 434.1,261.5 434.3,262.7 434.5,263.9 434.7,264.8 434.8,265.7 435,266.6 435.1,267.5 435.3,268.4 435.4,269.4 435.6,270.3 435.8,271.2 435.9,272.2 436.1,273.2 436.2,274.1 436.4,275.1 436.5,276.1 436.7,277.1 436.9,278.1 437,279.1 437.2,280 437.3,281 437.5,282 437.6,283.1 437.8,284.1 438,285.1 438.1,286.1 438.3,287.1 438.4,288.1 438.6,289.1 438.7,290.1 438.9,291.2 439,292.2 439.2,293.2 439.4,294.2 439.5,295.2 439.7,296.2 439.8,297.2 440,298.2 440.1,299.2 440.3,300.2 440.5,301.2 440.6,302.2 440.8,303.2 440.9,304.2 441.1,305.2 441.2,306.2 441.4,307.2 441.6,308.2 441.7,309.1 441.9,310.1 442,311.1 442.2,312 442.3,313 442.5,313.9 442.6,314.9 442.8,315.8 443,316.7 443.1,317.7 443.3,318.6 443.4,319.5 443.6,320.4 443.7,321.3 443.9,322.2 444.1,323.1 444.3,324.3 444.5,325.5 444.7,326.6 444.9,327.8 445.1,328.9 445.3,330 445.5,331.1 445.7,332.2 445.9,333.3 446.1,334.4 446.4,335.4 446.6,336.5 446.8,337.5 447,338.5 447.2,339.5 447.4,340.5 447.6,341.5 447.8,342.5 448,343.4 448.2,344.4 448.4,345.3 448.7,346.2 448.9,347.1 449.1,348 449.3,349.1 449.6,350.1 449.9,351.2 450.1,352.2 450.4,353.2 450.6,354.2 450.9,355.2 451.2,356.1 451.4,357.1 451.7,358 451.9,358.8 452.2,359.7 452.5,360.7 452.8,361.7 453.1,362.7 453.5,363.6 453.8,364.5 454.1,365.4 454.4,366.3 454.8,367.3 455.1,368.2 455.5,369.1 455.9,370 456.2,370.8 456.6,371.8 457.1,372.7 457.5,373.5 457.9,374.4 458.4,375.3 458.8,376.1 459.3,376.9 459.8,377.7 460.3,378.6 460.9,379.3 461.4,380.1 462,380.8 462.6,381.6 463.3,382.3 463.9,382.9 464.6,383.6 465.2,384.2 466,384.8 466.7,385.4 467.5,385.9 468.3,386.4 469.1,386.8 469.9,387.3 470.7,387.7 471.6,388 472.4,388.3 473.3,388.6 474.2,388.9 475.1,389.1 476,389.3 476.9,389.5 477.8,389.7 478.7,389.8 479.7,390 480.6,390.1 481.5,390.2 482.5,390.3 483.4,390.4 484.3,390.4 485.3,390.5 486.2,390.5 487.2,390.6 488.1,390.6 489,390.7 490,390.7 490.9,390.7 491.9,390.7 492.8,390.8 493.3,390.8" fill="none" stroke="#999" stroke-width="1.85" stroke-linejoin="round"/>
<line x1="69" y1="20.3" x2="69" y2="193.9" stroke="#b8b8b8" stroke-width="1.3"/>
<line x1="66.3" y1="191.3" x2="69" y2="191.3" stroke="#b8b8b8" stroke-width="1.1"/>
<line x1="66.3" y1="166.87" x2="69" y2="166.87" stroke="#b8b8b8" stroke-width="1.1"/>
<line x1="66.3" y1="142.44" x2="69" y2="142.44" stroke="#b8b8b8" stroke-width="1.1"/>
<line x1="66.3" y1="118.01" x2="69" y2="118.01" stroke="#b8b8b8" stroke-width="1.1"/>
<line x1="66.3" y1="93.59" x2="69" y2="93.59" stroke="#b8b8b8" stroke-width="1.1"/>
<line x1="66.3" y1="69.16" x2="69" y2="69.16" stroke="#b8b8b8" stroke-width="1.1"/>
<line x1="66.3" y1="44.73" x2="69" y2="44.73" stroke="#b8b8b8" stroke-width="1.1"/>
<line x1="66.3" y1="20.3" x2="69" y2="20.3" stroke="#b8b8b8" stroke-width="1.1"/>
<line x1="69" y1="191.3" x2="339.61" y2="191.3" stroke="#111" stroke-width="1.0"/>
<line x1="69" y1="191.3" x2="69" y2="194.1" stroke="#444" stroke-width="1.2"/>
<line x1="102.5" y1="191.3" x2="102.5" y2="194.1" stroke="#444" stroke-width="1.2"/>
<line x1="136" y1="191.3" x2="136" y2="194.1" stroke="#444" stroke-width="1.2"/>
<line x1="169.5" y1="191.3" x2="169.5" y2="194.1" stroke="#444" stroke-width="1.2"/>
<line x1="203" y1="191.3" x2="203" y2="194.1" stroke="#444" stroke-width="1.2"/>
<line x1="236.5" y1="191.3" x2="236.5" y2="194.1" stroke="#444" stroke-width="1.2"/>
<line x1="270.01" y1="191.3" x2="270.01" y2="194.1" stroke="#444" stroke-width="1.2"/>
<line x1="303.51" y1="191.3" x2="303.51" y2="194.1" stroke="#444" stroke-width="1.2"/>
<line x1="337.01" y1="191.3" x2="337.01" y2="194.1" stroke="#444" stroke-width="1.2"/>
<line x1="337.01" y1="20.3" x2="337.01" y2="191.3" stroke="#666" stroke-width="1.5"/>
<line x1="337.01" y1="36.9" x2="339.71" y2="36.9" stroke="#555" stroke-width="1.2"/>
<line x1="373.5" y1="20.3" x2="373.5" y2="193.9" stroke="#b8b8b8" stroke-width="1.3"/>
<line x1="370.8" y1="191.3" x2="373.5" y2="191.3" stroke="#b8b8b8" stroke-width="1.1"/>
<line x1="370.8" y1="166.87" x2="373.5" y2="166.87" stroke="#b8b8b8" stroke-width="1.1"/>
<line x1="370.8" y1="142.44" x2="373.5" y2="142.44" stroke="#b8b8b8" stroke-width="1.1"/>
<line x1="370.8" y1="118.01" x2="373.5" y2="118.01" stroke="#b8b8b8" stroke-width="1.1"/>
<line x1="370.8" y1="93.59" x2="373.5" y2="93.59" stroke="#b8b8b8" stroke-width="1.1"/>
<line x1="370.8" y1="69.16" x2="373.5" y2="69.16" stroke="#b8b8b8" stroke-width="1.1"/>
<line x1="370.8" y1="44.73" x2="373.5" y2="44.73" stroke="#b8b8b8" stroke-width="1.1"/>
<line x1="370.8" y1="20.3" x2="373.5" y2="20.3" stroke="#b8b8b8" stroke-width="1.1"/>
<line x1="373.5" y1="191.3" x2="645.62" y2="191.3" stroke="#111" stroke-width="1.0"/>
<line x1="373.5" y1="191.3" x2="373.5" y2="194.1" stroke="#444" stroke-width="1.2"/>
<line x1="407.19" y1="191.3" x2="407.19" y2="194.1" stroke="#444" stroke-width="1.2"/>
<line x1="440.88" y1="191.3" x2="440.88" y2="194.1" stroke="#444" stroke-width="1.2"/>
<line x1="474.57" y1="191.3" x2="474.57" y2="194.1" stroke="#444" stroke-width="1.2"/>
<line x1="508.26" y1="191.3" x2="508.26" y2="194.1" stroke="#444" stroke-width="1.2"/>
<line x1="541.95" y1="191.3" x2="541.95" y2="194.1" stroke="#444" stroke-width="1.2"/>
<line x1="575.64" y1="191.3" x2="575.64" y2="194.1" stroke="#444" stroke-width="1.2"/>
<line x1="609.33" y1="191.3" x2="609.33" y2="194.1" stroke="#444" stroke-width="1.2"/>
<line x1="643.02" y1="191.3" x2="643.02" y2="194.1" stroke="#444" stroke-width="1.2"/>
<line x1="643.02" y1="20.3" x2="643.02" y2="191.3" stroke="#666" stroke-width="1.5"/>
<line x1="643.02" y1="36.9" x2="645.72" y2="36.9" stroke="#555" stroke-width="1.2"/>
<line x1="69" y1="219.9" x2="69" y2="393.5" stroke="#b8b8b8" stroke-width="1.3"/>
<line x1="66.3" y1="390.9" x2="69" y2="390.9" stroke="#b8b8b8" stroke-width="1.1"/>
<line x1="66.3" y1="366.47" x2="69" y2="366.47" stroke="#b8b8b8" stroke-width="1.1"/>
<line x1="66.3" y1="342.04" x2="69" y2="342.04" stroke="#b8b8b8" stroke-width="1.1"/>
<line x1="66.3" y1="317.61" x2="69" y2="317.61" stroke="#b8b8b8" stroke-width="1.1"/>
<line x1="66.3" y1="293.19" x2="69" y2="293.19" stroke="#b8b8b8" stroke-width="1.1"/>
<line x1="66.3" y1="268.76" x2="69" y2="268.76" stroke="#b8b8b8" stroke-width="1.1"/>
<line x1="66.3" y1="244.33" x2="69" y2="244.33" stroke="#b8b8b8" stroke-width="1.1"/>
<line x1="66.3" y1="219.9" x2="69" y2="219.9" stroke="#b8b8b8" stroke-width="1.1"/>
<line x1="69" y1="390.9" x2="339.61" y2="390.9" stroke="#7a7a7a" stroke-width="1.8"/>
<line x1="69" y1="390.9" x2="69" y2="393.7" stroke="#444" stroke-width="1.2"/>
<line x1="102.5" y1="390.9" x2="102.5" y2="393.7" stroke="#444" stroke-width="1.2"/>
<line x1="136" y1="390.9" x2="136" y2="393.7" stroke="#444" stroke-width="1.2"/>
<line x1="169.5" y1="390.9" x2="169.5" y2="393.7" stroke="#444" stroke-width="1.2"/>
<line x1="203" y1="390.9" x2="203" y2="393.7" stroke="#444" stroke-width="1.2"/>
<line x1="236.5" y1="390.9" x2="236.5" y2="393.7" stroke="#444" stroke-width="1.2"/>
<line x1="270.01" y1="390.9" x2="270.01" y2="393.7" stroke="#444" stroke-width="1.2"/>
<line x1="303.51" y1="390.9" x2="303.51" y2="393.7" stroke="#444" stroke-width="1.2"/>
<line x1="337.01" y1="390.9" x2="337.01" y2="393.7" stroke="#444" stroke-width="1.2"/>
<line x1="337.01" y1="219.9" x2="337.01" y2="390.9" stroke="#666" stroke-width="1.5"/>
<line x1="337.01" y1="236.5" x2="339.71" y2="236.5" stroke="#555" stroke-width="1.2"/>
<line x1="373.5" y1="219.9" x2="373.5" y2="393.5" stroke="#b8b8b8" stroke-width="1.3"/>
<line x1="370.8" y1="390.9" x2="373.5" y2="390.9" stroke="#b8b8b8" stroke-width="1.1"/>
<line x1="370.8" y1="366.47" x2="373.5" y2="366.47" stroke="#b8b8b8" stroke-width="1.1"/>
<line x1="370.8" y1="342.04" x2="373.5" y2="342.04" stroke="#b8b8b8" stroke-width="1.1"/>
<line x1="370.8" y1="317.61" x2="373.5" y2="317.61" stroke="#b8b8b8" stroke-width="1.1"/>
<line x1="370.8" y1="293.19" x2="373.5" y2="293.19" stroke="#b8b8b8" stroke-width="1.1"/>
<line x1="370.8" y1="268.76" x2="373.5" y2="268.76" stroke="#b8b8b8" stroke-width="1.1"/>
<line x1="370.8" y1="244.33" x2="373.5" y2="244.33" stroke="#b8b8b8" stroke-width="1.1"/>
<line x1="370.8" y1="219.9" x2="373.5" y2="219.9" stroke="#b8b8b8" stroke-width="1.1"/>
<line x1="373.5" y1="390.9" x2="645.62" y2="390.9" stroke="#7a7a7a" stroke-width="1.8"/>
<line x1="373.5" y1="390.9" x2="373.5" y2="393.7" stroke="#444" stroke-width="1.2"/>
<line x1="407.19" y1="390.9" x2="407.19" y2="393.7" stroke="#444" stroke-width="1.2"/>
<line x1="440.88" y1="390.9" x2="440.88" y2="393.7" stroke="#444" stroke-width="1.2"/>
<line x1="474.57" y1="390.9" x2="474.57" y2="393.7" stroke="#444" stroke-width="1.2"/>
<line x1="508.26" y1="390.9" x2="508.26" y2="393.7" stroke="#444" stroke-width="1.2"/>
<line x1="541.95" y1="390.9" x2="541.95" y2="393.7" stroke="#444" stroke-width="1.2"/>
<line x1="575.64" y1="390.9" x2="575.64" y2="393.7" stroke="#444" stroke-width="1.2"/>
<line x1="609.33" y1="390.9" x2="609.33" y2="393.7" stroke="#444" stroke-width="1.2"/>
<line x1="643.02" y1="390.9" x2="643.02" y2="393.7" stroke="#444" stroke-width="1.2"/>
<line x1="643.02" y1="219.9" x2="643.02" y2="390.9" stroke="#666" stroke-width="1.5"/>
<line x1="643.02" y1="236.5" x2="645.72" y2="236.5" stroke="#555" stroke-width="1.2"/>
<line x1="328.5" y1="20.3" x2="328.5" y2="191.3" stroke="#444" stroke-width="1.2" stroke-dasharray="4.6 2 1.2 2"/>
<line x1="101" y1="36.9" x2="101" y2="189.8" stroke="#222" stroke-width="1.6" stroke-dasharray="1.6 1.64"/>
<line x1="204.2" y1="36.9" x2="204.2" y2="189.8" stroke="#222" stroke-width="1.6" stroke-dasharray="1.6 1.64"/>
<path d="M69 189.8H101M204.2 189.8H328.5" fill="none" stroke="#000" stroke-width="3.4"/>
<path d="M101 35.4H204.2" fill="none" stroke="#000" stroke-width="3.2"/>
<line x1="520.9" y1="20.3" x2="520.9" y2="191.3" stroke="#444" stroke-width="1.2" stroke-dasharray="4.6 2 1.2 2"/>
<line x1="401.6" y1="36.9" x2="401.6" y2="189.8" stroke="#222" stroke-width="1.6" stroke-dasharray="1.6 1.64"/>
<line x1="460.6" y1="36.9" x2="460.6" y2="189.8" stroke="#222" stroke-width="1.6" stroke-dasharray="1.6 1.64"/>
<path d="M373.5 189.8H401.6M460.6 189.8H520.9" fill="none" stroke="#000" stroke-width="3.4"/>
<path d="M401.6 35.4H460.6" fill="none" stroke="#000" stroke-width="3.2"/>
<line x1="200.9" y1="219.9" x2="200.9" y2="390.9" stroke="#444" stroke-width="1.2" stroke-dasharray="4.6 2 1.2 2"/>
<line x1="96.6" y1="236.5" x2="96.6" y2="389.4" stroke="#222" stroke-width="1.6" stroke-dasharray="1.6 1.64"/>
<line x1="149.9" y1="236.5" x2="149.9" y2="389.4" stroke="#222" stroke-width="1.6" stroke-dasharray="1.6 1.64"/>
<path d="M69 389.4H96.6M149.9 389.4H200.9" fill="none" stroke="#000" stroke-width="3.4"/>
<path d="M96.6 235H149.9" fill="none" stroke="#000" stroke-width="3.2"/>
<line x1="498.7" y1="219.9" x2="498.7" y2="390.9" stroke="#444" stroke-width="1.2" stroke-dasharray="4.6 2 1.2 2"/>
<line x1="401.4" y1="236.5" x2="401.4" y2="389.4" stroke="#222" stroke-width="1.6" stroke-dasharray="1.6 1.64"/>
<line x1="452.2" y1="236.5" x2="452.2" y2="389.4" stroke="#222" stroke-width="1.6" stroke-dasharray="1.6 1.64"/>
<path d="M373.5 389.4H401.4M452.2 389.4H498.7" fill="none" stroke="#000" stroke-width="3.4"/>
<path d="M401.4 235H452.2" fill="none" stroke="#000" stroke-width="3.2"/>
<text x="61.6" y="195.9" text-anchor="end">0</text>
<text x="61.6" y="171.47" text-anchor="end">200</text>
<text x="61.6" y="147.04" text-anchor="end">400</text>
<text x="61.6" y="122.61" text-anchor="end">600</text>
<text x="61.6" y="98.19" text-anchor="end">800</text>
<text x="61.6" y="73.76" text-anchor="end">1000</text>
<text x="61.6" y="49.33" text-anchor="end">1200</text>
<text x="61.6" y="24.9" text-anchor="end">1400</text>
<text x="61.6" y="395.5" text-anchor="end">0</text>
<text x="61.6" y="371.07" text-anchor="end">200</text>
<text x="61.6" y="346.64" text-anchor="end">400</text>
<text x="61.6" y="322.21" text-anchor="end">600</text>
<text x="61.6" y="297.79" text-anchor="end">800</text>
<text x="61.6" y="273.36" text-anchor="end">1000</text>
<text x="61.6" y="248.93" text-anchor="end">1200</text>
<text x="61.6" y="224.5" text-anchor="end">1400</text>
<text x="69.2" y="414.6" text-anchor="middle">0</text>
<text x="102.7" y="414.6" text-anchor="middle">0.3</text>
<text x="136.2" y="414.6" text-anchor="middle">0.6</text>
<text x="169.7" y="414.6" text-anchor="middle">0.9</text>
<text x="203.2" y="414.6" text-anchor="middle">1.2</text>
<text x="236.7" y="414.6" text-anchor="middle">1.5</text>
<text x="270.21" y="414.6" text-anchor="middle">1.8</text>
<text x="303.71" y="414.6" text-anchor="middle">2.1</text>
<text x="337.21" y="414.6" text-anchor="middle">2.4</text>
<text x="373.7" y="414.6" text-anchor="middle">0</text>
<text x="407.39" y="414.6" text-anchor="middle">0.3</text>
<text x="441.08" y="414.6" text-anchor="middle">0.6</text>
<text x="474.77" y="414.6" text-anchor="middle">0.9</text>
<text x="508.46" y="414.6" text-anchor="middle">1.2</text>
<text x="542.15" y="414.6" text-anchor="middle">1.5</text>
<text x="575.84" y="414.6" text-anchor="middle">1.8</text>
<text x="609.53" y="414.6" text-anchor="middle">2.1</text>
<text x="643.22" y="414.6" text-anchor="middle">2.4</text>
<text y="436.2"><tspan x="137.4" y="436.2" letter-spacing="1.1">time</tspan><tspan x="194.1" y="436.2">(</tspan><tspan x="200" y="436.2" letter-spacing="1">months</tspan><tspan x="260.5" y="436.2">)</tspan></text>
<text transform="translate(179.6,436.2) scale(1.4,1)" font-style="italic">t</text>
<text y="436.2"><tspan x="441.9" y="436.2" letter-spacing="1.1">time</tspan><tspan x="498.6" y="436.2">(</tspan><tspan x="504.5" y="436.2" letter-spacing="1">months</tspan><tspan x="565" y="436.2">)</tspan></text>
<text transform="translate(484.1,436.2) scale(1.4,1)" font-style="italic">t</text>
<g font-weight="bold" font-size="20">
<text x="303" y="17.8">(a)</text>
<text x="658.3" y="17.8">(b)</text>
<text x="304" y="218.8">(c)</text>
<text x="659" y="218.8">(d)</text>
</g>
<text x="650.8" y="41.9" font-style="italic">u<tspan font-size="14" dy="3.2" textLength="25" lengthAdjust="spacingAndGlyphs">max</tspan></text>
<text x="649.4" y="196.5">0</text>
<g transform="translate(676.1,54.8) rotate(90)"><text><tspan x="-1" y="0" letter-spacing="0.5">control</tspan><tspan x="73.8" y="-3.5" font-size="15">*</tspan><tspan x="80.9" y="0">(</tspan><tspan x="85.8" y="0" font-style="italic">t</tspan><tspan x="93.3" y="0">)</tspan></text><text transform="translate(60.9,0) scale(1.28,1)" font-style="italic">u</text></g>
<text x="650.8" y="241.5" font-style="italic">u<tspan font-size="14" dy="3.2" textLength="25" lengthAdjust="spacingAndGlyphs">max</tspan></text>
<text x="649.4" y="396.1">0</text>
<g transform="translate(676.1,254.4) rotate(90)"><text><tspan x="-1" y="0" letter-spacing="0.5">control</tspan><tspan x="73.8" y="-3.5" font-size="15">*</tspan><tspan x="80.9" y="0">(</tspan><tspan x="85.8" y="0" font-style="italic">t</tspan><tspan x="93.3" y="0">)</tspan></text><text transform="translate(60.9,0) scale(1.28,1)" font-style="italic">u</text></g>
<g transform="translate(12.7,170) rotate(-90)"><text><tspan x="-1" y="0" font-style="italic">Y</tspan><tspan x="12" y="3.3" font-size="14" font-style="italic">k</tspan><tspan x="20.3" y="0">,</tspan><tspan x="30.7" y="0" font-style="italic">k</tspan><tspan x="63" y="0">1</tspan><tspan x="75.8" y="0">,</tspan><tspan x="84.6" y="0">.</tspan><tspan x="92.6" y="0">.</tspan><tspan x="100.5" y="0">.</tspan><tspan x="107.6" y="0">,</tspan><tspan x="117.1" y="0" font-style="italic">n</tspan></text><path d="M47.8 -2.6H59.7M47.8 -6.6H59.7" stroke="#000" stroke-width="1.05" fill="none"/></g>
<g transform="translate(12.7,369.6) rotate(-90)"><text><tspan x="-1" y="0" font-style="italic">Y</tspan><tspan x="12" y="3.3" font-size="14" font-style="italic">k</tspan><tspan x="20.3" y="0">,</tspan><tspan x="30.7" y="0" font-style="italic">k</tspan><tspan x="63" y="0">1</tspan><tspan x="75.8" y="0">,</tspan><tspan x="84.6" y="0">.</tspan><tspan x="92.6" y="0">.</tspan><tspan x="100.5" y="0">.</tspan><tspan x="107.6" y="0">,</tspan><tspan x="117.1" y="0" font-style="italic">n</tspan></text><path d="M47.8 -2.6H59.7M47.8 -6.6H59.7" stroke="#000" stroke-width="1.05" fill="none"/></g>
<g transform="translate(311.3,81.6) rotate(90)" font-style="italic"><text transform="translate(-1.25,0) scale(1.25,1)">t</text><text transform="translate(30.0,0) scale(1.2,1)">T</text><path d="M12.3 -3H24.6M12.3 -6.7H24.6" stroke="#000" stroke-width="1.05" fill="none"/></g>
<g transform="translate(525.4,81) rotate(90)" font-style="italic"><text transform="translate(-1.25,0) scale(1.25,1)">t</text><text transform="translate(30.0,0) scale(1.2,1)">T</text><path d="M12.3 -3H24.6M12.3 -6.7H24.6" stroke="#000" stroke-width="1.05" fill="none"/></g>
<g transform="translate(205.5,280.9) rotate(90)" font-style="italic"><text transform="translate(-1.25,0) scale(1.25,1)">t</text><text transform="translate(30.0,0) scale(1.2,1)">T</text><path d="M12.3 -3H24.6M12.3 -6.7H24.6" stroke="#000" stroke-width="1.05" fill="none"/></g>
<g transform="translate(503.6,280.9) rotate(90)" font-style="italic"><text transform="translate(-1.25,0) scale(1.25,1)">t</text><text transform="translate(30.0,0) scale(1.2,1)">T</text><path d="M12.3 -3H24.6M12.3 -6.7H24.6" stroke="#000" stroke-width="1.05" fill="none"/></g>
</svg>
</body></html>
